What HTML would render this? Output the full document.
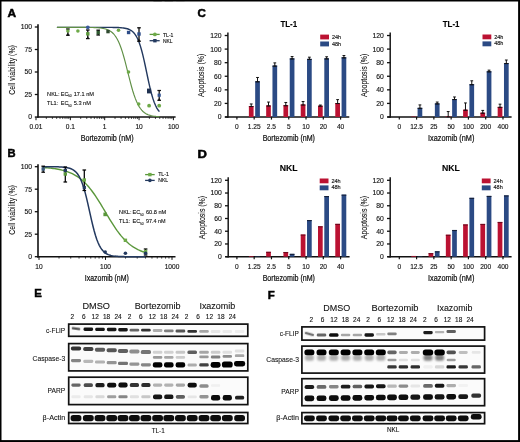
<!DOCTYPE html>
<html><head><meta charset="utf-8"><title>Figure</title>
<style>
html,body{margin:0;padding:0;background:#fff;}
body{width:520px;height:442px;overflow:hidden;}
svg{display:block;font-family:"Liberation Sans", sans-serif;}
</style></head>
<body>
<svg width="520" height="442" viewBox="0 0 520 442">
<rect x="0" y="0" width="520" height="442" fill="#fff"/>
<line x1="38.00" y1="24.20" x2="38.00" y2="117.70" stroke="#111" stroke-width="1.6"/>
<line x1="34.80" y1="117.00" x2="38.00" y2="117.00" stroke="#111" stroke-width="1.3"/>
<line x1="34.80" y1="94.50" x2="38.00" y2="94.50" stroke="#111" stroke-width="1.3"/>
<line x1="34.80" y1="72.00" x2="38.00" y2="72.00" stroke="#111" stroke-width="1.3"/>
<line x1="34.80" y1="49.50" x2="38.00" y2="49.50" stroke="#111" stroke-width="1.3"/>
<line x1="34.80" y1="27.00" x2="38.00" y2="27.00" stroke="#111" stroke-width="1.3"/>
<line x1="37.20" y1="117.00" x2="175.60" y2="117.00" stroke="#111" stroke-width="1.45"/>
<line x1="36.00" y1="117.00" x2="36.00" y2="120.20" stroke="#111" stroke-width="1.0"/>
<line x1="46.34" y1="117.00" x2="46.34" y2="118.90" stroke="#111" stroke-width="0.8"/>
<line x1="52.39" y1="117.00" x2="52.39" y2="118.90" stroke="#111" stroke-width="0.8"/>
<line x1="56.68" y1="117.00" x2="56.68" y2="118.90" stroke="#111" stroke-width="0.8"/>
<line x1="60.01" y1="117.00" x2="60.01" y2="118.90" stroke="#111" stroke-width="0.8"/>
<line x1="62.73" y1="117.00" x2="62.73" y2="118.90" stroke="#111" stroke-width="0.8"/>
<line x1="65.03" y1="117.00" x2="65.03" y2="118.90" stroke="#111" stroke-width="0.8"/>
<line x1="67.02" y1="117.00" x2="67.02" y2="118.90" stroke="#111" stroke-width="0.8"/>
<line x1="68.78" y1="117.00" x2="68.78" y2="118.90" stroke="#111" stroke-width="0.8"/>
<line x1="70.35" y1="117.00" x2="70.35" y2="120.20" stroke="#111" stroke-width="1.0"/>
<line x1="80.69" y1="117.00" x2="80.69" y2="118.90" stroke="#111" stroke-width="0.8"/>
<line x1="86.74" y1="117.00" x2="86.74" y2="118.90" stroke="#111" stroke-width="0.8"/>
<line x1="91.03" y1="117.00" x2="91.03" y2="118.90" stroke="#111" stroke-width="0.8"/>
<line x1="94.36" y1="117.00" x2="94.36" y2="118.90" stroke="#111" stroke-width="0.8"/>
<line x1="97.08" y1="117.00" x2="97.08" y2="118.90" stroke="#111" stroke-width="0.8"/>
<line x1="99.38" y1="117.00" x2="99.38" y2="118.90" stroke="#111" stroke-width="0.8"/>
<line x1="101.37" y1="117.00" x2="101.37" y2="118.90" stroke="#111" stroke-width="0.8"/>
<line x1="103.13" y1="117.00" x2="103.13" y2="118.90" stroke="#111" stroke-width="0.8"/>
<line x1="104.70" y1="117.00" x2="104.70" y2="120.20" stroke="#111" stroke-width="1.0"/>
<line x1="115.04" y1="117.00" x2="115.04" y2="118.90" stroke="#111" stroke-width="0.8"/>
<line x1="121.09" y1="117.00" x2="121.09" y2="118.90" stroke="#111" stroke-width="0.8"/>
<line x1="125.38" y1="117.00" x2="125.38" y2="118.90" stroke="#111" stroke-width="0.8"/>
<line x1="128.71" y1="117.00" x2="128.71" y2="118.90" stroke="#111" stroke-width="0.8"/>
<line x1="131.43" y1="117.00" x2="131.43" y2="118.90" stroke="#111" stroke-width="0.8"/>
<line x1="133.73" y1="117.00" x2="133.73" y2="118.90" stroke="#111" stroke-width="0.8"/>
<line x1="135.72" y1="117.00" x2="135.72" y2="118.90" stroke="#111" stroke-width="0.8"/>
<line x1="137.48" y1="117.00" x2="137.48" y2="118.90" stroke="#111" stroke-width="0.8"/>
<line x1="139.05" y1="117.00" x2="139.05" y2="120.20" stroke="#111" stroke-width="1.0"/>
<line x1="149.39" y1="117.00" x2="149.39" y2="118.90" stroke="#111" stroke-width="0.8"/>
<line x1="155.44" y1="117.00" x2="155.44" y2="118.90" stroke="#111" stroke-width="0.8"/>
<line x1="159.73" y1="117.00" x2="159.73" y2="118.90" stroke="#111" stroke-width="0.8"/>
<line x1="163.06" y1="117.00" x2="163.06" y2="118.90" stroke="#111" stroke-width="0.8"/>
<line x1="165.78" y1="117.00" x2="165.78" y2="118.90" stroke="#111" stroke-width="0.8"/>
<line x1="168.08" y1="117.00" x2="168.08" y2="118.90" stroke="#111" stroke-width="0.8"/>
<line x1="170.07" y1="117.00" x2="170.07" y2="118.90" stroke="#111" stroke-width="0.8"/>
<line x1="171.83" y1="117.00" x2="171.83" y2="118.90" stroke="#111" stroke-width="0.8"/>
<line x1="173.40" y1="117.00" x2="173.40" y2="120.20" stroke="#111" stroke-width="1.0"/>
<polyline points="56.90,27.36 58.18,27.36 59.46,27.36 60.74,27.36 62.02,27.36 63.31,27.36 64.59,27.36 65.87,27.36 67.15,27.36 68.43,27.36 69.71,27.36 70.99,27.36 72.28,27.36 73.56,27.36 74.84,27.36 76.12,27.36 77.40,27.36 78.68,27.36 79.96,27.36 81.24,27.36 82.53,27.36 83.81,27.36 85.09,27.36 86.37,27.36 87.65,27.36 88.93,27.36 90.21,27.36 91.49,27.36 92.78,27.36 94.06,27.36 95.34,27.36 96.62,27.36 97.90,27.36 99.18,27.36 100.46,27.36 101.74,27.37 103.03,27.37 104.31,27.37 105.59,27.37 106.87,27.38 108.15,27.38 109.43,27.39 110.71,27.40 111.99,27.41 113.28,27.43 114.56,27.45 115.84,27.48 117.12,27.52 118.40,27.57 119.68,27.64 120.96,27.73 122.24,27.84 123.53,27.99 124.81,28.19 126.09,28.45 127.37,28.79 128.65,29.23 129.93,29.80 131.21,30.55 132.49,31.51 133.78,32.74 135.06,34.31 136.34,36.29 137.62,38.76 138.90,41.78 140.18,45.42 141.46,49.71 142.74,54.63 144.03,60.11 145.31,66.00 146.59,72.12 147.87,78.24 149.15,84.14 150.43,89.63 151.71,94.56 152.99,98.86 154.28,102.51 155.56,105.55 156.84,108.03 158.12,110.01 159.40,111.59" fill="none" stroke="#23395f" stroke-width="1.4"/>
<polyline points="56.90,27.36 58.18,27.36 59.47,27.36 60.75,27.36 62.04,27.36 63.32,27.36 64.61,27.36 65.89,27.36 67.18,27.36 68.47,27.36 69.75,27.36 71.03,27.36 72.32,27.36 73.60,27.37 74.89,27.37 76.17,27.37 77.46,27.37 78.74,27.37 80.03,27.38 81.31,27.38 82.60,27.39 83.88,27.39 85.17,27.40 86.45,27.41 87.74,27.43 89.02,27.45 90.31,27.47 91.59,27.50 92.88,27.53 94.16,27.58 95.45,27.63 96.73,27.70 98.02,27.79 99.30,27.90 100.59,28.04 101.88,28.22 103.16,28.44 104.44,28.71 105.73,29.05 107.01,29.48 108.30,30.01 109.58,30.67 110.87,31.49 112.16,32.50 113.44,33.73 114.72,35.24 116.01,37.05 117.29,39.23 118.58,41.80 119.86,44.81 121.15,48.27 122.44,52.18 123.72,56.51 125.00,61.20 126.29,66.16 127.57,71.28 128.86,76.42 130.14,81.45 131.43,86.25 132.71,90.71 134.00,94.78 135.28,98.39 136.57,101.56 137.85,104.28 139.14,106.59 140.42,108.53 141.71,110.13 142.99,111.46 144.28,112.54 145.56,113.42 146.85,114.13 148.13,114.71 149.42,115.17 150.70,115.54 151.99,115.83 153.27,116.07 154.56,116.26 155.84,116.41 157.13,116.53 158.41,116.63 159.70,116.70" fill="none" stroke="#5f8f45" stroke-width="1.15"/>
<line x1="67.90" y1="29.00" x2="67.90" y2="35.20" stroke="#000" stroke-width="1.25"/>
<line x1="66.10" y1="29.00" x2="69.70" y2="29.00" stroke="#000" stroke-width="1.25"/>
<line x1="66.10" y1="35.20" x2="69.70" y2="35.20" stroke="#000" stroke-width="1.25"/>
<circle cx="67.90" cy="31.00" r="1.8" fill="#6eaa48"/>
<polygon points="66.40,35.70 69.40,35.70 67.90,32.70" fill="#111"/>
<circle cx="77.90" cy="31.00" r="1.8" fill="#6eaa48"/>
<line x1="87.80" y1="30.00" x2="87.80" y2="38.60" stroke="#000" stroke-width="1.25"/>
<line x1="86.00" y1="30.00" x2="89.60" y2="30.00" stroke="#000" stroke-width="1.25"/>
<line x1="86.00" y1="38.60" x2="89.60" y2="38.60" stroke="#000" stroke-width="1.25"/>
<rect x="86.10" y="32.10" width="3.40" height="3.40" fill="#5a973b" />
<circle cx="87.80" cy="27.30" r="1.9" fill="#3a5a9a"/>
<polygon points="86.30,39.10 89.30,39.10 87.80,36.10" fill="#111"/>
<line x1="98.20" y1="30.20" x2="98.20" y2="35.00" stroke="#000" stroke-width="1.25"/>
<line x1="96.40" y1="30.20" x2="100.00" y2="30.20" stroke="#000" stroke-width="1.25"/>
<line x1="96.40" y1="35.00" x2="100.00" y2="35.00" stroke="#000" stroke-width="1.25"/>
<rect x="96.50" y="30.90" width="3.40" height="3.40" fill="#2f5a30" />
<rect x="106.30" y="29.90" width="3.40" height="3.40" fill="#2f4a30" />
<circle cx="118.50" cy="30.20" r="1.8" fill="#6eaa48"/>
<rect x="126.90" y="30.80" width="3.40" height="3.40" fill="#2d4c88" />
<line x1="139.00" y1="27.80" x2="139.00" y2="41.20" stroke="#000" stroke-width="1.25"/>
<line x1="137.20" y1="27.80" x2="140.80" y2="27.80" stroke="#000" stroke-width="1.25"/>
<line x1="137.20" y1="41.20" x2="140.80" y2="41.20" stroke="#000" stroke-width="1.25"/>
<rect x="137.30" y="32.30" width="3.40" height="3.40" fill="#2d4c88" />
<polygon points="137.50,41.50 140.50,41.50 139.00,38.50" fill="#111"/>
<circle cx="128.50" cy="72.00" r="1.8" fill="#6eaa48"/>
<circle cx="138.70" cy="104.00" r="1.8" fill="#6eaa48"/>
<circle cx="149.10" cy="105.70" r="1.9" fill="#6eaa48"/>
<circle cx="159.20" cy="105.70" r="1.9" fill="#6eaa48"/>
<rect x="147.00" y="88.60" width="4.20" height="4.80" fill="#1f3150" />
<line x1="159.20" y1="90.50" x2="159.20" y2="100.30" stroke="#111" stroke-width="1.25"/>
<line x1="157.40" y1="90.50" x2="161.00" y2="90.50" stroke="#111" stroke-width="1.25"/>
<line x1="157.40" y1="100.30" x2="161.00" y2="100.30" stroke="#111" stroke-width="1.25"/>
<rect x="157.60" y="93.60" width="3.20" height="3.20" fill="#34548f" />
<polygon points="157.70,100.70 160.70,100.70 159.20,97.70" fill="#111"/>
<line x1="149.60" y1="34.40" x2="159.70" y2="34.40" stroke="#5a973b" stroke-width="1.3"/>
<circle cx="154.90" cy="34.40" r="1.9" fill="#6eaa48"/>
<line x1="149.60" y1="40.70" x2="159.70" y2="40.70" stroke="#23395f" stroke-width="1.3"/>
<rect x="153.20" y="39.00" width="3.40" height="3.40" fill="#23395f" />
<line x1="38.00" y1="164.20" x2="38.00" y2="257.40" stroke="#111" stroke-width="1.6"/>
<line x1="34.80" y1="256.70" x2="38.00" y2="256.70" stroke="#111" stroke-width="1.3"/>
<line x1="34.80" y1="234.20" x2="38.00" y2="234.20" stroke="#111" stroke-width="1.3"/>
<line x1="34.80" y1="211.70" x2="38.00" y2="211.70" stroke="#111" stroke-width="1.3"/>
<line x1="34.80" y1="189.20" x2="38.00" y2="189.20" stroke="#111" stroke-width="1.3"/>
<line x1="34.80" y1="166.70" x2="38.00" y2="166.70" stroke="#111" stroke-width="1.3"/>
<line x1="37.20" y1="256.70" x2="175.50" y2="256.70" stroke="#111" stroke-width="1.45"/>
<line x1="39.00" y1="256.70" x2="39.00" y2="259.90" stroke="#111" stroke-width="1.0"/>
<line x1="59.02" y1="256.70" x2="59.02" y2="258.60" stroke="#111" stroke-width="0.8"/>
<line x1="70.73" y1="256.70" x2="70.73" y2="258.60" stroke="#111" stroke-width="0.8"/>
<line x1="79.04" y1="256.70" x2="79.04" y2="258.60" stroke="#111" stroke-width="0.8"/>
<line x1="85.48" y1="256.70" x2="85.48" y2="258.60" stroke="#111" stroke-width="0.8"/>
<line x1="90.75" y1="256.70" x2="90.75" y2="258.60" stroke="#111" stroke-width="0.8"/>
<line x1="95.20" y1="256.70" x2="95.20" y2="258.60" stroke="#111" stroke-width="0.8"/>
<line x1="99.06" y1="256.70" x2="99.06" y2="258.60" stroke="#111" stroke-width="0.8"/>
<line x1="102.46" y1="256.70" x2="102.46" y2="258.60" stroke="#111" stroke-width="0.8"/>
<line x1="105.50" y1="256.70" x2="105.50" y2="259.90" stroke="#111" stroke-width="1.0"/>
<line x1="125.52" y1="256.70" x2="125.52" y2="258.60" stroke="#111" stroke-width="0.8"/>
<line x1="137.23" y1="256.70" x2="137.23" y2="258.60" stroke="#111" stroke-width="0.8"/>
<line x1="145.54" y1="256.70" x2="145.54" y2="258.60" stroke="#111" stroke-width="0.8"/>
<line x1="151.98" y1="256.70" x2="151.98" y2="258.60" stroke="#111" stroke-width="0.8"/>
<line x1="157.25" y1="256.70" x2="157.25" y2="258.60" stroke="#111" stroke-width="0.8"/>
<line x1="161.70" y1="256.70" x2="161.70" y2="258.60" stroke="#111" stroke-width="0.8"/>
<line x1="165.56" y1="256.70" x2="165.56" y2="258.60" stroke="#111" stroke-width="0.8"/>
<line x1="168.96" y1="256.70" x2="168.96" y2="258.60" stroke="#111" stroke-width="0.8"/>
<line x1="172.00" y1="256.70" x2="172.00" y2="259.90" stroke="#111" stroke-width="1.0"/>
<polyline points="42.70,167.51 43.99,167.60 45.27,167.69 46.56,167.78 47.84,167.89 49.13,168.01 50.42,168.14 51.70,168.29 52.99,168.45 54.28,168.62 55.56,168.81 56.85,169.02 58.14,169.25 59.42,169.50 60.71,169.77 61.99,170.07 63.28,170.40 64.57,170.76 65.85,171.15 67.14,171.58 68.43,172.04 69.71,172.55 71.00,173.10 72.28,173.70 73.57,174.35 74.86,175.05 76.14,175.81 77.43,176.64 78.72,177.52 80.00,178.48 81.29,179.50 82.57,180.60 83.86,181.78 85.15,183.03 86.43,184.36 87.72,185.77 89.00,187.26 90.29,188.84 91.58,190.49 92.86,192.22 94.15,194.02 95.44,195.90 96.72,197.83 98.01,199.83 99.29,201.88 100.58,203.97 101.87,206.10 103.15,208.25 104.44,210.42 105.73,212.59 107.01,214.76 108.30,216.92 109.58,219.05 110.87,221.15 112.16,223.20 113.44,225.21 114.73,227.16 116.02,229.04 117.30,230.86 118.59,232.60 119.87,234.27 121.16,235.86 122.45,237.36 123.73,238.79 125.02,240.14 126.31,241.40 127.59,242.59 128.88,243.70 130.17,244.74 131.45,245.71 132.74,246.61 134.02,247.44 135.31,248.21 136.60,248.93 137.88,249.59 139.17,250.20 140.45,250.76 141.74,251.27 143.03,251.74 144.31,252.18 145.60,252.57" fill="none" stroke="#5a973b" stroke-width="1.4"/>
<polyline points="42.70,166.71 43.99,166.71 45.27,166.71 46.56,166.72 47.84,166.72 49.13,166.73 50.42,166.73 51.70,166.74 52.99,166.76 54.28,166.77 55.56,166.80 56.85,166.82 58.14,166.86 59.42,166.91 60.71,166.97 61.99,167.05 63.28,167.15 64.57,167.28 65.85,167.45 67.14,167.67 68.43,167.95 69.71,168.31 71.00,168.78 72.28,169.37 73.57,170.13 74.86,171.09 76.14,172.30 77.43,173.82 78.72,175.71 80.00,178.03 81.29,180.85 82.57,184.20 83.86,188.13 85.15,192.63 86.43,197.65 87.72,203.08 89.00,208.79 90.29,214.59 91.58,220.30 92.86,225.74 94.15,230.75 95.44,235.25 96.72,239.19 98.01,242.55 99.29,245.36 100.58,247.68 101.87,249.57 103.15,251.10 104.44,252.31 105.73,253.27 107.01,254.03 108.30,254.62 109.58,255.09 110.87,255.45 112.16,255.73 113.44,255.95 114.73,256.12 116.02,256.25 117.30,256.35 118.59,256.43 119.87,256.49 121.16,256.54 122.45,256.58 123.73,256.60 125.02,256.63 126.31,256.64 127.59,256.66 128.88,256.67 130.17,256.67 131.45,256.68 132.74,256.68 134.02,256.69 135.31,256.69 136.60,256.69 137.88,256.69 139.17,256.70 140.45,256.70 141.74,256.70 143.03,256.70 144.31,256.70 145.60,256.70" fill="none" stroke="#23395f" stroke-width="1.5"/>
<line x1="43.20" y1="166.20" x2="43.20" y2="172.20" stroke="#000" stroke-width="1.25"/>
<line x1="41.40" y1="166.20" x2="45.00" y2="166.20" stroke="#000" stroke-width="1.25"/>
<line x1="41.40" y1="172.20" x2="45.00" y2="172.20" stroke="#000" stroke-width="1.25"/>
<rect x="41.50" y="167.30" width="3.40" height="3.40" fill="#3a5a7a" />
<line x1="65.30" y1="167.00" x2="65.30" y2="182.00" stroke="#000" stroke-width="1.25"/>
<line x1="63.50" y1="167.00" x2="67.10" y2="167.00" stroke="#000" stroke-width="1.25"/>
<line x1="63.50" y1="182.00" x2="67.10" y2="182.00" stroke="#000" stroke-width="1.25"/>
<rect x="63.60" y="168.80" width="3.40" height="3.40" fill="#23395f" />
<rect x="63.60" y="172.30" width="3.40" height="3.40" fill="#5a973b" />
<line x1="84.30" y1="170.00" x2="84.30" y2="190.50" stroke="#000" stroke-width="1.25"/>
<line x1="82.50" y1="170.00" x2="86.10" y2="170.00" stroke="#000" stroke-width="1.25"/>
<line x1="82.50" y1="190.50" x2="86.10" y2="190.50" stroke="#000" stroke-width="1.25"/>
<rect x="82.60" y="178.30" width="3.40" height="3.40" fill="#6eaa48" />
<rect x="82.70" y="185.90" width="3.20" height="3.20" fill="#23395f" />
<rect x="103.40" y="212.60" width="3.60" height="3.60" fill="#5a973b" />
<circle cx="105.20" cy="252.00" r="1.8" fill="#23395f"/>
<rect x="123.70" y="238.60" width="3.40" height="3.40" fill="#6eaa48" />
<circle cx="125.40" cy="253.20" r="1.8" fill="#23395f"/>
<line x1="145.60" y1="249.00" x2="145.60" y2="255.00" stroke="#000" stroke-width="1.25"/>
<line x1="143.80" y1="249.00" x2="147.40" y2="249.00" stroke="#000" stroke-width="1.25"/>
<line x1="143.80" y1="255.00" x2="147.40" y2="255.00" stroke="#000" stroke-width="1.25"/>
<rect x="143.90" y="249.80" width="3.40" height="3.40" fill="#6eaa48" />
<circle cx="145.60" cy="253.30" r="1.8" fill="#23395f"/>
<line x1="145.10" y1="174.60" x2="154.70" y2="174.60" stroke="#5a973b" stroke-width="1.3"/>
<rect x="148.20" y="172.90" width="3.40" height="3.40" fill="#6eaa48" />
<line x1="145.10" y1="180.40" x2="154.70" y2="180.40" stroke="#23395f" stroke-width="1.3"/>
<circle cx="149.90" cy="180.40" r="1.8" fill="#23395f"/>
<line x1="227.90" y1="32.40" x2="227.90" y2="117.70" stroke="#111" stroke-width="1.45"/>
<line x1="224.70" y1="117.00" x2="227.90" y2="117.00" stroke="#111" stroke-width="1.3"/>
<line x1="224.70" y1="103.42" x2="227.90" y2="103.42" stroke="#111" stroke-width="1.3"/>
<line x1="224.70" y1="89.84" x2="227.90" y2="89.84" stroke="#111" stroke-width="1.3"/>
<line x1="224.70" y1="76.26" x2="227.90" y2="76.26" stroke="#111" stroke-width="1.3"/>
<line x1="224.70" y1="62.68" x2="227.90" y2="62.68" stroke="#111" stroke-width="1.3"/>
<line x1="224.70" y1="49.10" x2="227.90" y2="49.10" stroke="#111" stroke-width="1.3"/>
<line x1="224.70" y1="35.52" x2="227.90" y2="35.52" stroke="#111" stroke-width="1.3"/>
<line x1="225.10" y1="117.00" x2="349.30" y2="117.00" stroke="#111" stroke-width="1.45"/>
<line x1="236.90" y1="117.00" x2="236.90" y2="119.60" stroke="#111" stroke-width="1.2"/>
<line x1="254.18" y1="117.00" x2="254.18" y2="119.60" stroke="#111" stroke-width="1.2"/>
<rect x="248.88" y="106.00" width="4.70" height="11.00" fill="#bb1232" />
<rect x="248.88" y="106.00" width="4.70" height="1.10" fill="#6e0a1e" />
<line x1="251.23" y1="103.96" x2="251.23" y2="106.50" stroke="#111" stroke-width="1.0"/>
<line x1="249.83" y1="103.96" x2="252.63" y2="103.96" stroke="#111" stroke-width="1.0"/>
<line x1="249.83" y1="106.50" x2="252.63" y2="106.50" stroke="#111" stroke-width="1.0"/>
<rect x="255.18" y="81.28" width="4.70" height="35.72" fill="#2b4a84" />
<rect x="255.18" y="81.28" width="4.70" height="1.10" fill="#152039" />
<line x1="257.53" y1="77.48" x2="257.53" y2="81.78" stroke="#111" stroke-width="1.0"/>
<line x1="256.13" y1="77.48" x2="258.93" y2="77.48" stroke="#111" stroke-width="1.0"/>
<line x1="256.13" y1="81.78" x2="258.93" y2="81.78" stroke="#111" stroke-width="1.0"/>
<line x1="271.46" y1="117.00" x2="271.46" y2="119.60" stroke="#111" stroke-width="1.2"/>
<rect x="266.16" y="105.46" width="4.70" height="11.54" fill="#bb1232" />
<rect x="266.16" y="105.46" width="4.70" height="1.10" fill="#6e0a1e" />
<line x1="268.51" y1="102.06" x2="268.51" y2="105.96" stroke="#111" stroke-width="1.0"/>
<line x1="267.11" y1="102.06" x2="269.91" y2="102.06" stroke="#111" stroke-width="1.0"/>
<line x1="267.11" y1="105.96" x2="269.91" y2="105.96" stroke="#111" stroke-width="1.0"/>
<rect x="272.46" y="65.60" width="4.70" height="51.40" fill="#2b4a84" />
<rect x="272.46" y="65.60" width="4.70" height="1.10" fill="#152039" />
<line x1="274.81" y1="62.88" x2="274.81" y2="66.10" stroke="#111" stroke-width="1.0"/>
<line x1="273.41" y1="62.88" x2="276.21" y2="62.88" stroke="#111" stroke-width="1.0"/>
<line x1="273.41" y1="66.10" x2="276.21" y2="66.10" stroke="#111" stroke-width="1.0"/>
<line x1="288.74" y1="117.00" x2="288.74" y2="119.60" stroke="#111" stroke-width="1.2"/>
<rect x="283.44" y="105.19" width="4.70" height="11.81" fill="#bb1232" />
<rect x="283.44" y="105.19" width="4.70" height="1.10" fill="#6e0a1e" />
<line x1="285.79" y1="102.47" x2="285.79" y2="105.69" stroke="#111" stroke-width="1.0"/>
<line x1="284.39" y1="102.47" x2="287.19" y2="102.47" stroke="#111" stroke-width="1.0"/>
<line x1="284.39" y1="105.69" x2="287.19" y2="105.69" stroke="#111" stroke-width="1.0"/>
<rect x="289.74" y="58.40" width="4.70" height="58.60" fill="#2b4a84" />
<rect x="289.74" y="58.40" width="4.70" height="1.10" fill="#152039" />
<line x1="292.09" y1="56.57" x2="292.09" y2="58.90" stroke="#111" stroke-width="1.0"/>
<line x1="290.69" y1="56.57" x2="293.49" y2="56.57" stroke="#111" stroke-width="1.0"/>
<line x1="290.69" y1="58.90" x2="293.49" y2="58.90" stroke="#111" stroke-width="1.0"/>
<line x1="306.02" y1="117.00" x2="306.02" y2="119.60" stroke="#111" stroke-width="1.2"/>
<rect x="300.72" y="104.51" width="4.70" height="12.49" fill="#bb1232" />
<rect x="300.72" y="104.51" width="4.70" height="1.10" fill="#6e0a1e" />
<line x1="303.07" y1="101.52" x2="303.07" y2="105.01" stroke="#111" stroke-width="1.0"/>
<line x1="301.67" y1="101.52" x2="304.47" y2="101.52" stroke="#111" stroke-width="1.0"/>
<line x1="301.67" y1="105.01" x2="304.47" y2="105.01" stroke="#111" stroke-width="1.0"/>
<rect x="307.02" y="58.88" width="4.70" height="58.12" fill="#2b4a84" />
<rect x="307.02" y="58.88" width="4.70" height="1.10" fill="#152039" />
<line x1="309.37" y1="57.18" x2="309.37" y2="59.38" stroke="#111" stroke-width="1.0"/>
<line x1="307.97" y1="57.18" x2="310.77" y2="57.18" stroke="#111" stroke-width="1.0"/>
<line x1="307.97" y1="59.38" x2="310.77" y2="59.38" stroke="#111" stroke-width="1.0"/>
<line x1="323.30" y1="117.00" x2="323.30" y2="119.60" stroke="#111" stroke-width="1.2"/>
<rect x="318.00" y="105.73" width="4.70" height="11.27" fill="#bb1232" />
<rect x="318.00" y="105.73" width="4.70" height="1.10" fill="#6e0a1e" />
<line x1="320.35" y1="105.05" x2="320.35" y2="106.23" stroke="#111" stroke-width="1.0"/>
<line x1="318.95" y1="105.05" x2="321.75" y2="105.05" stroke="#111" stroke-width="1.0"/>
<line x1="318.95" y1="106.23" x2="321.75" y2="106.23" stroke="#111" stroke-width="1.0"/>
<rect x="324.30" y="58.40" width="4.70" height="58.60" fill="#2b4a84" />
<rect x="324.30" y="58.40" width="4.70" height="1.10" fill="#152039" />
<line x1="326.65" y1="56.77" x2="326.65" y2="58.90" stroke="#111" stroke-width="1.0"/>
<line x1="325.25" y1="56.77" x2="328.05" y2="56.77" stroke="#111" stroke-width="1.0"/>
<line x1="325.25" y1="58.90" x2="328.05" y2="58.90" stroke="#111" stroke-width="1.0"/>
<line x1="340.58" y1="117.00" x2="340.58" y2="119.60" stroke="#111" stroke-width="1.2"/>
<rect x="335.28" y="103.01" width="4.70" height="13.99" fill="#bb1232" />
<rect x="335.28" y="103.01" width="4.70" height="1.10" fill="#6e0a1e" />
<line x1="337.63" y1="99.62" x2="337.63" y2="103.51" stroke="#111" stroke-width="1.0"/>
<line x1="336.23" y1="99.62" x2="339.03" y2="99.62" stroke="#111" stroke-width="1.0"/>
<line x1="336.23" y1="103.51" x2="339.03" y2="103.51" stroke="#111" stroke-width="1.0"/>
<rect x="341.58" y="57.32" width="4.70" height="59.68" fill="#2b4a84" />
<rect x="341.58" y="57.32" width="4.70" height="1.10" fill="#152039" />
<line x1="343.93" y1="55.55" x2="343.93" y2="57.82" stroke="#111" stroke-width="1.0"/>
<line x1="342.53" y1="55.55" x2="345.33" y2="55.55" stroke="#111" stroke-width="1.0"/>
<line x1="342.53" y1="57.82" x2="345.33" y2="57.82" stroke="#111" stroke-width="1.0"/>
<rect x="320.20" y="34.60" width="8.80" height="4.80" fill="#bb1232" />
<rect x="320.20" y="41.50" width="8.80" height="4.90" fill="#2b4a84" />
<line x1="390.20" y1="32.40" x2="390.20" y2="117.70" stroke="#111" stroke-width="1.45"/>
<line x1="387.00" y1="117.00" x2="390.20" y2="117.00" stroke="#111" stroke-width="1.3"/>
<line x1="387.00" y1="103.42" x2="390.20" y2="103.42" stroke="#111" stroke-width="1.3"/>
<line x1="387.00" y1="89.84" x2="390.20" y2="89.84" stroke="#111" stroke-width="1.3"/>
<line x1="387.00" y1="76.26" x2="390.20" y2="76.26" stroke="#111" stroke-width="1.3"/>
<line x1="387.00" y1="62.68" x2="390.20" y2="62.68" stroke="#111" stroke-width="1.3"/>
<line x1="387.00" y1="49.10" x2="390.20" y2="49.10" stroke="#111" stroke-width="1.3"/>
<line x1="387.00" y1="35.52" x2="390.20" y2="35.52" stroke="#111" stroke-width="1.3"/>
<line x1="387.40" y1="117.00" x2="511.60" y2="117.00" stroke="#111" stroke-width="1.45"/>
<line x1="399.30" y1="117.00" x2="399.30" y2="119.60" stroke="#111" stroke-width="1.2"/>
<line x1="416.58" y1="117.00" x2="416.58" y2="119.60" stroke="#111" stroke-width="1.2"/>
<rect x="411.28" y="116.59" width="4.70" height="0.41" fill="#bb1232" />
<rect x="417.58" y="107.83" width="4.70" height="9.17" fill="#2b4a84" />
<rect x="417.58" y="107.83" width="4.70" height="1.10" fill="#152039" />
<line x1="419.93" y1="104.91" x2="419.93" y2="108.33" stroke="#111" stroke-width="1.0"/>
<line x1="418.53" y1="104.91" x2="421.33" y2="104.91" stroke="#111" stroke-width="1.0"/>
<line x1="418.53" y1="108.33" x2="421.33" y2="108.33" stroke="#111" stroke-width="1.0"/>
<line x1="433.86" y1="117.00" x2="433.86" y2="119.60" stroke="#111" stroke-width="1.2"/>
<rect x="434.86" y="103.42" width="4.70" height="13.58" fill="#2b4a84" />
<rect x="434.86" y="103.42" width="4.70" height="1.10" fill="#152039" />
<line x1="437.21" y1="102.06" x2="437.21" y2="103.92" stroke="#111" stroke-width="1.0"/>
<line x1="435.81" y1="102.06" x2="438.61" y2="102.06" stroke="#111" stroke-width="1.0"/>
<line x1="435.81" y1="103.92" x2="438.61" y2="103.92" stroke="#111" stroke-width="1.0"/>
<line x1="451.14" y1="117.00" x2="451.14" y2="119.60" stroke="#111" stroke-width="1.2"/>
<rect x="445.84" y="116.32" width="4.70" height="0.68" fill="#bb1232" />
<line x1="448.19" y1="111.57" x2="448.19" y2="116.82" stroke="#111" stroke-width="1.0"/>
<line x1="446.79" y1="111.57" x2="449.59" y2="111.57" stroke="#111" stroke-width="1.0"/>
<line x1="446.79" y1="116.82" x2="449.59" y2="116.82" stroke="#111" stroke-width="1.0"/>
<rect x="452.14" y="99.01" width="4.70" height="17.99" fill="#2b4a84" />
<rect x="452.14" y="99.01" width="4.70" height="1.10" fill="#152039" />
<line x1="454.49" y1="96.97" x2="454.49" y2="99.51" stroke="#111" stroke-width="1.0"/>
<line x1="453.09" y1="96.97" x2="455.89" y2="96.97" stroke="#111" stroke-width="1.0"/>
<line x1="453.09" y1="99.51" x2="455.89" y2="99.51" stroke="#111" stroke-width="1.0"/>
<line x1="468.42" y1="117.00" x2="468.42" y2="119.60" stroke="#111" stroke-width="1.2"/>
<rect x="463.12" y="109.73" width="4.70" height="7.27" fill="#bb1232" />
<rect x="463.12" y="109.73" width="4.70" height="1.10" fill="#6e0a1e" />
<line x1="465.47" y1="102.94" x2="465.47" y2="110.23" stroke="#111" stroke-width="1.0"/>
<line x1="464.07" y1="102.94" x2="466.87" y2="102.94" stroke="#111" stroke-width="1.0"/>
<line x1="464.07" y1="110.23" x2="466.87" y2="110.23" stroke="#111" stroke-width="1.0"/>
<rect x="469.42" y="84.20" width="4.70" height="32.80" fill="#2b4a84" />
<rect x="469.42" y="84.20" width="4.70" height="1.10" fill="#152039" />
<line x1="471.77" y1="80.81" x2="471.77" y2="84.70" stroke="#111" stroke-width="1.0"/>
<line x1="470.37" y1="80.81" x2="473.17" y2="80.81" stroke="#111" stroke-width="1.0"/>
<line x1="470.37" y1="84.70" x2="473.17" y2="84.70" stroke="#111" stroke-width="1.0"/>
<line x1="485.70" y1="117.00" x2="485.70" y2="119.60" stroke="#111" stroke-width="1.2"/>
<rect x="480.40" y="112.72" width="4.70" height="4.28" fill="#bb1232" />
<rect x="480.40" y="112.72" width="4.70" height="1.10" fill="#6e0a1e" />
<line x1="482.75" y1="110.41" x2="482.75" y2="113.22" stroke="#111" stroke-width="1.0"/>
<line x1="481.35" y1="110.41" x2="484.15" y2="110.41" stroke="#111" stroke-width="1.0"/>
<line x1="481.35" y1="113.22" x2="484.15" y2="113.22" stroke="#111" stroke-width="1.0"/>
<rect x="486.70" y="71.30" width="4.70" height="45.70" fill="#2b4a84" />
<rect x="486.70" y="71.30" width="4.70" height="1.10" fill="#152039" />
<line x1="489.05" y1="70.15" x2="489.05" y2="71.80" stroke="#111" stroke-width="1.0"/>
<line x1="487.65" y1="70.15" x2="490.45" y2="70.15" stroke="#111" stroke-width="1.0"/>
<line x1="487.65" y1="71.80" x2="490.45" y2="71.80" stroke="#111" stroke-width="1.0"/>
<line x1="502.98" y1="117.00" x2="502.98" y2="119.60" stroke="#111" stroke-width="1.2"/>
<rect x="497.68" y="106.88" width="4.70" height="10.12" fill="#bb1232" />
<rect x="497.68" y="106.88" width="4.70" height="1.10" fill="#6e0a1e" />
<line x1="500.03" y1="104.17" x2="500.03" y2="107.38" stroke="#111" stroke-width="1.0"/>
<line x1="498.63" y1="104.17" x2="501.43" y2="104.17" stroke="#111" stroke-width="1.0"/>
<line x1="498.63" y1="107.38" x2="501.43" y2="107.38" stroke="#111" stroke-width="1.0"/>
<rect x="503.98" y="63.02" width="4.70" height="53.98" fill="#2b4a84" />
<rect x="503.98" y="63.02" width="4.70" height="1.10" fill="#152039" />
<line x1="506.33" y1="60.03" x2="506.33" y2="63.52" stroke="#111" stroke-width="1.0"/>
<line x1="504.93" y1="60.03" x2="507.73" y2="60.03" stroke="#111" stroke-width="1.0"/>
<line x1="504.93" y1="63.52" x2="507.73" y2="63.52" stroke="#111" stroke-width="1.0"/>
<rect x="482.50" y="34.50" width="8.80" height="4.80" fill="#bb1232" />
<rect x="482.50" y="41.40" width="8.80" height="4.90" fill="#2b4a84" />
<line x1="228.20" y1="177.20" x2="228.20" y2="257.40" stroke="#111" stroke-width="1.45"/>
<line x1="225.00" y1="256.70" x2="228.20" y2="256.70" stroke="#111" stroke-width="1.3"/>
<line x1="225.00" y1="243.97" x2="228.20" y2="243.97" stroke="#111" stroke-width="1.3"/>
<line x1="225.00" y1="231.23" x2="228.20" y2="231.23" stroke="#111" stroke-width="1.3"/>
<line x1="225.00" y1="218.50" x2="228.20" y2="218.50" stroke="#111" stroke-width="1.3"/>
<line x1="225.00" y1="205.76" x2="228.20" y2="205.76" stroke="#111" stroke-width="1.3"/>
<line x1="225.00" y1="193.03" x2="228.20" y2="193.03" stroke="#111" stroke-width="1.3"/>
<line x1="225.00" y1="180.30" x2="228.20" y2="180.30" stroke="#111" stroke-width="1.3"/>
<line x1="225.40" y1="256.70" x2="349.60" y2="256.70" stroke="#111" stroke-width="1.45"/>
<line x1="236.90" y1="256.70" x2="236.90" y2="259.30" stroke="#111" stroke-width="1.2"/>
<line x1="254.18" y1="256.70" x2="254.18" y2="259.30" stroke="#111" stroke-width="1.2"/>
<rect x="248.88" y="256.06" width="4.70" height="0.64" fill="#bb1232" />
<rect x="255.18" y="256.32" width="4.70" height="0.38" fill="#2b4a84" />
<line x1="271.46" y1="256.70" x2="271.46" y2="259.30" stroke="#111" stroke-width="1.2"/>
<rect x="266.16" y="251.80" width="4.70" height="4.90" fill="#bb1232" />
<rect x="266.16" y="251.80" width="4.70" height="1.10" fill="#6e0a1e" />
<line x1="288.74" y1="256.70" x2="288.74" y2="259.30" stroke="#111" stroke-width="1.2"/>
<rect x="283.44" y="251.99" width="4.70" height="4.71" fill="#bb1232" />
<rect x="283.44" y="251.99" width="4.70" height="1.10" fill="#6e0a1e" />
<rect x="289.74" y="253.83" width="4.70" height="2.87" fill="#2b4a84" />
<rect x="289.74" y="253.83" width="4.70" height="1.10" fill="#152039" />
<line x1="306.02" y1="256.70" x2="306.02" y2="259.30" stroke="#111" stroke-width="1.2"/>
<rect x="300.72" y="234.54" width="4.70" height="22.16" fill="#bb1232" />
<rect x="300.72" y="234.54" width="4.70" height="1.10" fill="#6e0a1e" />
<rect x="307.02" y="220.03" width="4.70" height="36.67" fill="#2b4a84" />
<rect x="307.02" y="220.03" width="4.70" height="1.10" fill="#152039" />
<line x1="323.30" y1="256.70" x2="323.30" y2="259.30" stroke="#111" stroke-width="1.2"/>
<rect x="318.00" y="226.27" width="4.70" height="30.43" fill="#bb1232" />
<rect x="318.00" y="226.27" width="4.70" height="1.10" fill="#6e0a1e" />
<rect x="324.30" y="196.02" width="4.70" height="60.68" fill="#2b4a84" />
<rect x="324.30" y="196.02" width="4.70" height="1.10" fill="#152039" />
<line x1="340.58" y1="256.70" x2="340.58" y2="259.30" stroke="#111" stroke-width="1.2"/>
<rect x="335.28" y="223.85" width="4.70" height="32.85" fill="#bb1232" />
<rect x="335.28" y="223.85" width="4.70" height="1.10" fill="#6e0a1e" />
<rect x="341.58" y="194.62" width="4.70" height="62.08" fill="#2b4a84" />
<rect x="341.58" y="194.62" width="4.70" height="1.10" fill="#152039" />
<rect x="319.70" y="178.50" width="8.80" height="4.80" fill="#bb1232" />
<rect x="319.70" y="185.40" width="8.80" height="4.90" fill="#2b4a84" />
<line x1="390.20" y1="177.20" x2="390.20" y2="257.40" stroke="#111" stroke-width="1.45"/>
<line x1="387.00" y1="256.70" x2="390.20" y2="256.70" stroke="#111" stroke-width="1.3"/>
<line x1="387.00" y1="243.97" x2="390.20" y2="243.97" stroke="#111" stroke-width="1.3"/>
<line x1="387.00" y1="231.23" x2="390.20" y2="231.23" stroke="#111" stroke-width="1.3"/>
<line x1="387.00" y1="218.50" x2="390.20" y2="218.50" stroke="#111" stroke-width="1.3"/>
<line x1="387.00" y1="205.76" x2="390.20" y2="205.76" stroke="#111" stroke-width="1.3"/>
<line x1="387.00" y1="193.03" x2="390.20" y2="193.03" stroke="#111" stroke-width="1.3"/>
<line x1="387.00" y1="180.30" x2="390.20" y2="180.30" stroke="#111" stroke-width="1.3"/>
<line x1="387.40" y1="256.70" x2="511.60" y2="256.70" stroke="#111" stroke-width="1.45"/>
<line x1="399.30" y1="256.70" x2="399.30" y2="259.30" stroke="#111" stroke-width="1.2"/>
<line x1="416.58" y1="256.70" x2="416.58" y2="259.30" stroke="#111" stroke-width="1.2"/>
<rect x="411.28" y="255.94" width="4.70" height="0.76" fill="#bb1232" />
<rect x="417.58" y="256.32" width="4.70" height="0.38" fill="#2b4a84" />
<line x1="433.86" y1="256.70" x2="433.86" y2="259.30" stroke="#111" stroke-width="1.2"/>
<rect x="428.56" y="253.13" width="4.70" height="3.57" fill="#bb1232" />
<rect x="428.56" y="253.13" width="4.70" height="1.10" fill="#6e0a1e" />
<rect x="434.86" y="251.29" width="4.70" height="5.41" fill="#2b4a84" />
<rect x="434.86" y="251.29" width="4.70" height="1.10" fill="#152039" />
<line x1="451.14" y1="256.70" x2="451.14" y2="259.30" stroke="#111" stroke-width="1.2"/>
<rect x="445.84" y="234.73" width="4.70" height="21.97" fill="#bb1232" />
<rect x="445.84" y="234.73" width="4.70" height="1.10" fill="#6e0a1e" />
<rect x="452.14" y="229.96" width="4.70" height="26.74" fill="#2b4a84" />
<rect x="452.14" y="229.96" width="4.70" height="1.10" fill="#152039" />
<line x1="468.42" y1="256.70" x2="468.42" y2="259.30" stroke="#111" stroke-width="1.2"/>
<rect x="463.12" y="224.42" width="4.70" height="32.28" fill="#bb1232" />
<rect x="463.12" y="224.42" width="4.70" height="1.10" fill="#6e0a1e" />
<rect x="469.42" y="197.81" width="4.70" height="58.89" fill="#2b4a84" />
<rect x="469.42" y="197.81" width="4.70" height="1.10" fill="#152039" />
<line x1="485.70" y1="256.70" x2="485.70" y2="259.30" stroke="#111" stroke-width="1.2"/>
<rect x="480.40" y="223.91" width="4.70" height="32.79" fill="#bb1232" />
<rect x="480.40" y="223.91" width="4.70" height="1.10" fill="#6e0a1e" />
<rect x="486.70" y="195.90" width="4.70" height="60.80" fill="#2b4a84" />
<rect x="486.70" y="195.90" width="4.70" height="1.10" fill="#152039" />
<line x1="502.98" y1="256.70" x2="502.98" y2="259.30" stroke="#111" stroke-width="1.2"/>
<rect x="497.68" y="221.94" width="4.70" height="34.76" fill="#bb1232" />
<rect x="497.68" y="221.94" width="4.70" height="1.10" fill="#6e0a1e" />
<rect x="503.98" y="195.39" width="4.70" height="61.31" fill="#2b4a84" />
<rect x="503.98" y="195.39" width="4.70" height="1.10" fill="#152039" />
<rect x="481.80" y="178.50" width="8.80" height="4.80" fill="#bb1232" />
<rect x="481.80" y="185.40" width="8.80" height="4.90" fill="#2b4a84" />
<defs><filter id="bl" x="-50%" y="-80%" width="200%" height="260%"><feGaussianBlur stdDeviation="0.75"/></filter><filter id="gs" x="0" y="0" width="100%" height="100%" filterUnits="userSpaceOnUse"><feOffset dx="0" dy="0"/></filter><filter id="bl2" x="-50%" y="-100%" width="200%" height="300%"><feGaussianBlur stdDeviation="1.3"/></filter></defs>
<rect x="68.70" y="324.10" width="179.10" height="12.20" fill="#fbfbfb" stroke="#111" stroke-width="1.7"/>
<rect x="71.70" y="327.40" width="8.60" height="2.40" rx="1.02" fill="rgb(77,77,77)" filter="url(#bl)" transform="rotate(8 76.00 328.60)"/>
<rect x="83.50" y="327.60" width="9.60" height="3.40" rx="1.44" fill="rgb(25,25,25)" filter="url(#bl)"/>
<rect x="95.20" y="327.70" width="9.60" height="3.40" rx="1.44" fill="rgb(18,18,18)" filter="url(#bl)"/>
<rect x="106.90" y="327.80" width="9.60" height="3.40" rx="1.44" fill="rgb(20,20,20)" filter="url(#bl)"/>
<rect x="118.20" y="328.00" width="9.60" height="3.40" rx="1.44" fill="rgb(25,25,25)" filter="url(#bl)"/>
<rect x="129.60" y="328.70" width="9.60" height="2.80" rx="1.19" fill="rgb(102,102,102)" filter="url(#bl)"/>
<rect x="141.10" y="328.70" width="9.60" height="2.80" rx="1.19" fill="rgb(51,51,51)" filter="url(#bl)"/>
<rect x="152.80" y="329.10" width="9.60" height="2.80" rx="1.19" fill="rgb(173,173,173)" filter="url(#bl)"/>
<rect x="164.00" y="329.40" width="9.60" height="2.80" rx="1.19" fill="rgb(128,128,128)" filter="url(#bl)"/>
<rect x="175.60" y="329.60" width="9.60" height="2.80" rx="1.19" fill="rgb(87,87,87)" filter="url(#bl)"/>
<rect x="187.40" y="329.90" width="9.60" height="2.80" rx="1.19" fill="rgb(51,51,51)" filter="url(#bl)"/>
<rect x="199.20" y="330.00" width="9.60" height="2.80" rx="1.19" fill="rgb(166,166,166)" filter="url(#bl)"/>
<rect x="210.80" y="330.10" width="9.60" height="2.80" rx="1.19" fill="rgb(230,230,230)" filter="url(#bl)"/>
<rect x="222.50" y="330.10" width="9.60" height="2.80" rx="1.19" fill="rgb(235,235,235)" filter="url(#bl)"/>
<rect x="234.80" y="330.10" width="9.60" height="2.80" rx="1.19" fill="rgb(237,237,237)" filter="url(#bl)"/>
<rect x="68.70" y="343.60" width="179.10" height="27.30" fill="#fbfbfb" stroke="#111" stroke-width="1.7"/>
<rect x="70.90" y="346.40" width="10.20" height="4.00" rx="1.70" fill="rgb(51,51,51)" filter="url(#bl)"/>
<rect x="83.20" y="347.02" width="10.20" height="4.00" rx="1.70" fill="rgb(66,66,66)" filter="url(#bl)"/>
<rect x="94.90" y="347.64" width="10.20" height="4.00" rx="1.70" fill="rgb(92,92,92)" filter="url(#bl)"/>
<rect x="106.60" y="348.26" width="10.20" height="4.00" rx="1.70" fill="rgb(87,87,87)" filter="url(#bl)"/>
<rect x="117.90" y="348.88" width="10.20" height="4.00" rx="1.70" fill="rgb(97,97,97)" filter="url(#bl)"/>
<rect x="129.30" y="349.50" width="10.20" height="4.00" rx="1.70" fill="rgb(143,143,143)" filter="url(#bl)"/>
<rect x="140.80" y="350.12" width="10.20" height="4.00" rx="1.70" fill="rgb(117,117,117)" filter="url(#bl)"/>
<rect x="152.80" y="350.80" width="9.60" height="3.00" rx="1.27" fill="rgb(209,209,209)" filter="url(#bl)"/>
<rect x="164.00" y="350.80" width="9.60" height="3.00" rx="1.27" fill="rgb(209,209,209)" filter="url(#bl)"/>
<rect x="175.60" y="350.80" width="9.60" height="3.00" rx="1.27" fill="rgb(199,199,199)" filter="url(#bl)"/>
<rect x="187.40" y="350.50" width="9.60" height="3.60" rx="1.53" fill="rgb(97,97,97)" filter="url(#bl)"/>
<rect x="199.20" y="350.80" width="9.60" height="3.00" rx="1.27" fill="rgb(166,166,166)" filter="url(#bl)"/>
<rect x="210.80" y="350.80" width="9.60" height="3.00" rx="1.27" fill="rgb(204,204,204)" filter="url(#bl)"/>
<rect x="222.50" y="350.80" width="9.60" height="3.00" rx="1.27" fill="rgb(224,224,224)" filter="url(#bl)"/>
<rect x="234.80" y="349.50" width="9.60" height="3.00" rx="1.27" fill="rgb(224,224,224)" filter="url(#bl)"/>
<rect x="152.90" y="-1.40" width="9.40" height="2.80" rx="1.19" fill="rgb(153,153,153)" filter="url(#bl)"/>
<rect x="164.10" y="-1.40" width="9.40" height="2.80" rx="1.19" fill="rgb(166,166,166)" filter="url(#bl)"/>
<rect x="175.70" y="-1.40" width="9.40" height="2.80" rx="1.19" fill="rgb(204,204,204)" filter="url(#bl)"/>
<rect x="199.30" y="355.50" width="9.40" height="2.80" rx="1.19" fill="rgb(153,153,153)" filter="url(#bl)"/>
<rect x="210.90" y="355.60" width="9.40" height="2.80" rx="1.19" fill="rgb(128,128,128)" filter="url(#bl)"/>
<rect x="222.60" y="355.00" width="9.40" height="2.80" rx="1.19" fill="rgb(140,140,140)" filter="url(#bl)"/>
<rect x="234.90" y="354.30" width="9.40" height="2.80" rx="1.19" fill="rgb(166,166,166)" filter="url(#bl)"/>
<rect x="152.90" y="355.90" width="9.40" height="2.80" rx="1.19" fill="rgb(153,153,153)" filter="url(#bl)"/>
<rect x="164.10" y="355.90" width="9.40" height="2.80" rx="1.19" fill="rgb(166,166,166)" filter="url(#bl)"/>
<rect x="175.70" y="355.90" width="9.40" height="2.80" rx="1.19" fill="rgb(204,204,204)" filter="url(#bl)"/>
<rect x="71.00" y="359.00" width="10.00" height="3.20" rx="1.36" fill="rgb(133,133,133)" filter="url(#bl)"/>
<rect x="83.30" y="359.70" width="10.00" height="3.20" rx="1.36" fill="rgb(184,184,184)" filter="url(#bl)"/>
<rect x="95.00" y="360.40" width="10.00" height="3.20" rx="1.36" fill="rgb(178,178,178)" filter="url(#bl)"/>
<rect x="106.70" y="361.10" width="10.00" height="3.20" rx="1.36" fill="rgb(148,148,148)" filter="url(#bl)"/>
<rect x="118.00" y="361.80" width="10.00" height="3.20" rx="1.36" fill="rgb(115,115,115)" filter="url(#bl)"/>
<rect x="129.40" y="362.50" width="10.00" height="3.20" rx="1.36" fill="rgb(148,148,148)" filter="url(#bl)"/>
<rect x="140.90" y="363.20" width="10.00" height="3.20" rx="1.36" fill="rgb(133,133,133)" filter="url(#bl)"/>
<rect x="152.80" y="362.30" width="9.60" height="5.20" rx="2.21" fill="rgb(5,5,5)" filter="url(#bl)"/>
<rect x="164.00" y="362.30" width="9.60" height="5.20" rx="2.21" fill="rgb(5,5,5)" filter="url(#bl)"/>
<rect x="175.60" y="362.30" width="9.60" height="5.20" rx="2.21" fill="rgb(5,5,5)" filter="url(#bl)"/>
<rect x="187.60" y="363.40" width="9.20" height="3.00" rx="1.27" fill="rgb(173,173,173)" filter="url(#bl)"/>
<rect x="199.30" y="363.30" width="9.40" height="3.20" rx="1.36" fill="rgb(64,64,64)" filter="url(#bl)"/>
<rect x="210.60" y="362.10" width="10.00" height="5.60" rx="2.38" fill="rgb(3,3,3)" filter="url(#bl)"/>
<rect x="221.90" y="361.50" width="10.80" height="6.00" rx="2.55" fill="rgb(3,3,3)" filter="url(#bl)"/>
<rect x="234.00" y="360.90" width="11.20" height="5.60" rx="2.38" fill="rgb(3,3,3)" filter="url(#bl)"/>
<rect x="68.70" y="377.20" width="179.10" height="27.40" fill="#fbfbfb" stroke="#111" stroke-width="1.7"/>
<rect x="71.40" y="383.40" width="9.20" height="3.40" rx="1.44" fill="rgb(102,102,102)" filter="url(#bl)"/>
<rect x="83.70" y="383.20" width="9.20" height="3.80" rx="1.61" fill="rgb(77,77,77)" filter="url(#bl)"/>
<rect x="95.40" y="382.90" width="9.20" height="4.40" rx="1.87" fill="rgb(31,31,31)" filter="url(#bl)"/>
<rect x="107.10" y="382.70" width="9.20" height="4.80" rx="2.04" fill="rgb(13,13,13)" filter="url(#bl)"/>
<rect x="118.40" y="382.60" width="9.20" height="5.00" rx="2.12" fill="rgb(8,8,8)" filter="url(#bl)"/>
<rect x="129.80" y="383.10" width="9.20" height="4.00" rx="1.70" fill="rgb(51,51,51)" filter="url(#bl)"/>
<rect x="141.30" y="383.10" width="9.20" height="4.00" rx="1.70" fill="rgb(46,46,46)" filter="url(#bl)"/>
<rect x="153.00" y="383.40" width="9.20" height="3.40" rx="1.44" fill="rgb(178,178,178)" filter="url(#bl)"/>
<rect x="164.20" y="383.40" width="9.20" height="3.40" rx="1.44" fill="rgb(178,178,178)" filter="url(#bl)"/>
<rect x="175.80" y="383.40" width="9.20" height="3.40" rx="1.44" fill="rgb(166,166,166)" filter="url(#bl)"/>
<rect x="187.60" y="382.80" width="9.20" height="4.80" rx="2.04" fill="rgb(10,10,10)" filter="url(#bl)"/>
<rect x="199.40" y="384.20" width="9.20" height="3.60" rx="1.53" fill="rgb(140,140,140)" filter="url(#bl)"/>
<rect x="211.00" y="384.30" width="9.20" height="2.40" rx="1.02" fill="rgb(240,240,240)" filter="url(#bl)"/>
<rect x="71.40" y="395.30" width="9.20" height="3.00" rx="1.27" fill="rgb(235,235,235)" filter="url(#bl)"/>
<rect x="83.70" y="395.30" width="9.20" height="3.00" rx="1.27" fill="rgb(230,230,230)" filter="url(#bl)"/>
<rect x="95.40" y="395.30" width="9.20" height="3.00" rx="1.27" fill="rgb(217,217,217)" filter="url(#bl)"/>
<rect x="107.10" y="395.30" width="9.20" height="3.00" rx="1.27" fill="rgb(158,158,158)" filter="url(#bl)"/>
<rect x="118.40" y="395.30" width="9.20" height="3.00" rx="1.27" fill="rgb(133,133,133)" filter="url(#bl)"/>
<rect x="129.80" y="395.30" width="9.20" height="3.00" rx="1.27" fill="rgb(224,224,224)" filter="url(#bl)"/>
<rect x="141.30" y="395.30" width="9.20" height="3.00" rx="1.27" fill="rgb(199,199,199)" filter="url(#bl)"/>
<rect x="153.00" y="394.40" width="9.20" height="4.80" rx="2.04" fill="rgb(18,18,18)" filter="url(#bl)"/>
<rect x="164.20" y="394.60" width="9.20" height="4.40" rx="1.87" fill="rgb(25,25,25)" filter="url(#bl)"/>
<rect x="175.80" y="394.90" width="9.20" height="3.80" rx="1.61" fill="rgb(97,97,97)" filter="url(#bl)"/>
<rect x="187.60" y="395.40" width="9.20" height="2.80" rx="1.19" fill="rgb(230,230,230)" filter="url(#bl)"/>
<rect x="199.40" y="395.10" width="9.20" height="3.40" rx="1.44" fill="rgb(148,148,148)" filter="url(#bl)"/>
<rect x="211.00" y="395.10" width="9.20" height="5.40" rx="2.29" fill="rgb(8,8,8)" filter="url(#bl)"/>
<rect x="222.70" y="395.10" width="9.20" height="5.40" rx="2.29" fill="rgb(8,8,8)" filter="url(#bl)"/>
<rect x="235.00" y="395.70" width="9.20" height="3.80" rx="1.61" fill="rgb(36,36,36)" filter="url(#bl)"/>
<rect x="68.70" y="412.50" width="179.10" height="11.00" fill="#fbfbfb" stroke="#111" stroke-width="1.7"/>
<rect x="70.60" y="415.00" width="10.80" height="6.20" rx="2.63" fill="rgb(10,10,10)" filter="url(#bl)"/>
<rect x="82.90" y="415.00" width="10.80" height="6.20" rx="2.63" fill="rgb(10,10,10)" filter="url(#bl)"/>
<rect x="94.60" y="415.00" width="10.80" height="6.20" rx="2.63" fill="rgb(10,10,10)" filter="url(#bl)"/>
<rect x="106.30" y="415.00" width="10.80" height="6.20" rx="2.63" fill="rgb(10,10,10)" filter="url(#bl)"/>
<rect x="117.60" y="415.00" width="10.80" height="6.20" rx="2.63" fill="rgb(10,10,10)" filter="url(#bl)"/>
<rect x="129.00" y="415.00" width="10.80" height="6.20" rx="2.63" fill="rgb(10,10,10)" filter="url(#bl)"/>
<rect x="140.50" y="415.00" width="10.80" height="6.20" rx="2.63" fill="rgb(10,10,10)" filter="url(#bl)"/>
<rect x="152.20" y="415.00" width="10.80" height="6.20" rx="2.63" fill="rgb(10,10,10)" filter="url(#bl)"/>
<rect x="163.40" y="415.00" width="10.80" height="6.20" rx="2.63" fill="rgb(10,10,10)" filter="url(#bl)"/>
<rect x="175.00" y="415.00" width="10.80" height="6.20" rx="2.63" fill="rgb(10,10,10)" filter="url(#bl)"/>
<rect x="186.80" y="415.00" width="10.80" height="6.20" rx="2.63" fill="rgb(10,10,10)" filter="url(#bl)"/>
<rect x="198.60" y="415.00" width="10.80" height="6.20" rx="2.63" fill="rgb(10,10,10)" filter="url(#bl)"/>
<rect x="210.20" y="415.00" width="10.80" height="6.20" rx="2.63" fill="rgb(10,10,10)" filter="url(#bl)"/>
<rect x="221.90" y="415.00" width="10.80" height="6.20" rx="2.63" fill="rgb(10,10,10)" filter="url(#bl)"/>
<rect x="234.20" y="415.00" width="10.80" height="6.20" rx="2.63" fill="rgb(10,10,10)" filter="url(#bl)"/>
<rect x="301.90" y="326.90" width="182.70" height="13.20" fill="#fbfbfb" stroke="#111" stroke-width="1.7"/>
<rect x="304.70" y="332.80" width="9.40" height="2.40" rx="1.02" fill="rgb(115,115,115)" filter="url(#bl)" transform="rotate(16 309.40 334.00)"/>
<rect x="316.80" y="333.60" width="9.40" height="2.80" rx="1.19" fill="rgb(102,102,102)" filter="url(#bl)"/>
<rect x="329.10" y="333.20" width="9.40" height="3.60" rx="1.53" fill="rgb(10,10,10)" filter="url(#bl)"/>
<rect x="340.90" y="333.70" width="9.40" height="2.60" rx="1.10" fill="rgb(166,166,166)" filter="url(#bl)"/>
<rect x="352.70" y="333.70" width="9.40" height="2.60" rx="1.10" fill="rgb(166,166,166)" filter="url(#bl)"/>
<rect x="364.50" y="333.30" width="9.40" height="3.40" rx="1.44" fill="rgb(20,20,20)" filter="url(#bl)"/>
<rect x="376.10" y="333.10" width="9.40" height="2.40" rx="1.02" fill="rgb(199,199,199)" filter="url(#bl)"/>
<rect x="387.30" y="332.40" width="9.40" height="2.80" rx="1.19" fill="rgb(128,128,128)" filter="url(#bl)"/>
<rect x="423.30" y="331.00" width="9.40" height="3.20" rx="1.36" fill="rgb(31,31,31)" filter="url(#bl)"/>
<rect x="434.90" y="330.90" width="9.40" height="2.40" rx="1.02" fill="rgb(178,178,178)" filter="url(#bl)"/>
<rect x="446.50" y="330.10" width="9.40" height="3.00" rx="1.27" fill="rgb(97,97,97)" filter="url(#bl)"/>
<rect x="301.90" y="346.10" width="182.70" height="27.00" fill="#fbfbfb" stroke="#111" stroke-width="1.7"/>
<rect x="304.90" y="354.80" width="9.00" height="6.00" rx="2.40" fill="rgb(173,173,173)" filter="url(#bl2)"/>
<rect x="317.00" y="354.80" width="9.00" height="6.00" rx="2.40" fill="rgb(173,173,173)" filter="url(#bl2)"/>
<rect x="329.30" y="354.80" width="9.00" height="6.00" rx="2.40" fill="rgb(173,173,173)" filter="url(#bl2)"/>
<rect x="341.10" y="354.80" width="9.00" height="6.00" rx="2.40" fill="rgb(173,173,173)" filter="url(#bl2)"/>
<rect x="352.90" y="354.80" width="9.00" height="6.00" rx="2.40" fill="rgb(173,173,173)" filter="url(#bl2)"/>
<rect x="364.70" y="354.80" width="9.00" height="6.00" rx="2.40" fill="rgb(173,173,173)" filter="url(#bl2)"/>
<rect x="376.30" y="354.80" width="9.00" height="6.00" rx="2.40" fill="rgb(173,173,173)" filter="url(#bl2)"/>
<rect x="423.50" y="354.80" width="9.00" height="6.00" rx="2.40" fill="rgb(128,128,128)" filter="url(#bl2)"/>
<rect x="435.10" y="354.80" width="9.00" height="6.00" rx="2.40" fill="rgb(128,128,128)" filter="url(#bl2)"/>
<rect x="304.40" y="349.60" width="10.00" height="5.60" rx="2.52" fill="rgb(5,5,5)" filter="url(#bl)"/>
<rect x="316.50" y="349.60" width="10.00" height="5.60" rx="2.52" fill="rgb(5,5,5)" filter="url(#bl)"/>
<rect x="328.80" y="349.60" width="10.00" height="5.60" rx="2.52" fill="rgb(5,5,5)" filter="url(#bl)"/>
<rect x="340.60" y="349.60" width="10.00" height="5.60" rx="2.52" fill="rgb(5,5,5)" filter="url(#bl)"/>
<rect x="352.40" y="349.60" width="10.00" height="5.60" rx="2.52" fill="rgb(5,5,5)" filter="url(#bl)"/>
<rect x="364.20" y="349.60" width="10.00" height="5.60" rx="2.52" fill="rgb(5,5,5)" filter="url(#bl)"/>
<rect x="375.80" y="349.60" width="10.00" height="5.60" rx="2.52" fill="rgb(5,5,5)" filter="url(#bl)"/>
<rect x="387.30" y="350.60" width="9.40" height="3.60" rx="1.62" fill="rgb(102,102,102)" filter="url(#bl)"/>
<rect x="398.90" y="350.90" width="9.00" height="3.00" rx="1.35" fill="rgb(173,173,173)" filter="url(#bl)"/>
<rect x="410.80" y="350.90" width="9.00" height="3.00" rx="1.35" fill="rgb(173,173,173)" filter="url(#bl)"/>
<rect x="422.80" y="349.40" width="10.40" height="6.00" rx="2.70" fill="rgb(3,3,3)" filter="url(#bl)"/>
<rect x="434.40" y="349.40" width="10.40" height="6.00" rx="2.70" fill="rgb(3,3,3)" filter="url(#bl)"/>
<rect x="446.50" y="350.60" width="9.40" height="3.60" rx="1.62" fill="rgb(82,82,82)" filter="url(#bl)"/>
<rect x="458.70" y="350.90" width="9.00" height="3.00" rx="1.35" fill="rgb(191,191,191)" filter="url(#bl)"/>
<rect x="471.70" y="351.10" width="9.00" height="2.60" rx="1.17" fill="rgb(230,230,230)" filter="url(#bl)"/>
<rect x="387.50" y="358.70" width="9.00" height="2.60" rx="1.10" fill="rgb(158,158,158)" filter="url(#bl)"/>
<rect x="398.90" y="358.70" width="9.00" height="2.60" rx="1.10" fill="rgb(224,224,224)" filter="url(#bl)"/>
<rect x="410.80" y="358.70" width="9.00" height="2.60" rx="1.10" fill="rgb(224,224,224)" filter="url(#bl)"/>
<rect x="446.70" y="358.70" width="9.00" height="2.60" rx="1.10" fill="rgb(158,158,158)" filter="url(#bl)"/>
<rect x="387.30" y="365.30" width="9.40" height="3.20" rx="1.36" fill="rgb(56,56,56)" filter="url(#bl)"/>
<rect x="398.70" y="365.30" width="9.40" height="3.20" rx="1.36" fill="rgb(46,46,46)" filter="url(#bl)"/>
<rect x="410.60" y="365.30" width="9.40" height="3.20" rx="1.36" fill="rgb(46,46,46)" filter="url(#bl)"/>
<rect x="423.30" y="365.30" width="9.40" height="3.20" rx="1.36" fill="rgb(240,240,240)" filter="url(#bl)"/>
<rect x="434.90" y="365.30" width="9.40" height="3.20" rx="1.36" fill="rgb(214,214,214)" filter="url(#bl)"/>
<rect x="446.50" y="365.30" width="9.40" height="3.20" rx="1.36" fill="rgb(31,31,31)" filter="url(#bl)"/>
<rect x="458.50" y="365.30" width="9.40" height="3.20" rx="1.36" fill="rgb(56,56,56)" filter="url(#bl)"/>
<rect x="471.50" y="365.30" width="9.40" height="3.20" rx="1.36" fill="rgb(102,102,102)" filter="url(#bl)"/>
<rect x="301.90" y="378.70" width="182.70" height="27.00" fill="#fbfbfb" stroke="#111" stroke-width="1.7"/>
<rect x="304.60" y="385.00" width="9.60" height="4.00" rx="1.70" fill="rgb(31,31,31)" filter="url(#bl)"/>
<rect x="316.70" y="385.09" width="9.60" height="3.60" rx="1.53" fill="rgb(107,107,107)" filter="url(#bl)"/>
<rect x="329.00" y="385.07" width="9.60" height="3.40" rx="1.44" fill="rgb(133,133,133)" filter="url(#bl)"/>
<rect x="340.80" y="384.76" width="9.60" height="3.80" rx="1.61" fill="rgb(31,31,31)" filter="url(#bl)"/>
<rect x="352.60" y="384.74" width="9.60" height="3.60" rx="1.53" fill="rgb(97,97,97)" filter="url(#bl)"/>
<rect x="364.40" y="384.43" width="9.60" height="4.00" rx="1.70" fill="rgb(20,20,20)" filter="url(#bl)"/>
<rect x="376.00" y="384.31" width="9.60" height="4.00" rx="1.70" fill="rgb(18,18,18)" filter="url(#bl)"/>
<rect x="387.20" y="384.60" width="9.60" height="3.20" rx="1.36" fill="rgb(184,184,184)" filter="url(#bl)"/>
<rect x="398.60" y="384.39" width="9.60" height="3.40" rx="1.44" fill="rgb(140,140,140)" filter="url(#bl)"/>
<rect x="410.50" y="384.47" width="9.60" height="3.00" rx="1.27" fill="rgb(230,230,230)" filter="url(#bl)"/>
<rect x="423.20" y="384.06" width="9.60" height="3.60" rx="1.53" fill="rgb(107,107,107)" filter="url(#bl)"/>
<rect x="434.80" y="383.74" width="9.60" height="4.00" rx="1.70" fill="rgb(25,25,25)" filter="url(#bl)"/>
<rect x="446.40" y="384.03" width="9.60" height="3.20" rx="1.36" fill="rgb(173,173,173)" filter="url(#bl)"/>
<rect x="458.40" y="384.01" width="9.60" height="3.00" rx="1.27" fill="rgb(242,242,242)" filter="url(#bl)"/>
<rect x="304.50" y="395.60" width="9.80" height="5.60" rx="2.38" fill="rgb(8,8,8)" filter="url(#bl)"/>
<rect x="316.60" y="395.46" width="9.80" height="5.60" rx="2.38" fill="rgb(8,8,8)" filter="url(#bl)"/>
<rect x="328.90" y="395.31" width="9.80" height="5.60" rx="2.38" fill="rgb(8,8,8)" filter="url(#bl)"/>
<rect x="340.70" y="395.17" width="9.80" height="5.60" rx="2.38" fill="rgb(8,8,8)" filter="url(#bl)"/>
<rect x="352.50" y="395.03" width="9.80" height="5.60" rx="2.38" fill="rgb(8,8,8)" filter="url(#bl)"/>
<rect x="364.30" y="394.89" width="9.80" height="5.60" rx="2.38" fill="rgb(8,8,8)" filter="url(#bl)"/>
<rect x="375.90" y="394.74" width="9.80" height="5.60" rx="2.38" fill="rgb(8,8,8)" filter="url(#bl)"/>
<rect x="387.10" y="394.60" width="9.80" height="5.60" rx="2.38" fill="rgb(8,8,8)" filter="url(#bl)"/>
<rect x="398.50" y="394.46" width="9.80" height="5.60" rx="2.38" fill="rgb(8,8,8)" filter="url(#bl)"/>
<rect x="410.40" y="394.51" width="9.80" height="5.20" rx="2.21" fill="rgb(18,18,18)" filter="url(#bl)"/>
<rect x="423.10" y="394.17" width="9.80" height="5.60" rx="2.38" fill="rgb(8,8,8)" filter="url(#bl)"/>
<rect x="434.70" y="394.23" width="9.80" height="5.20" rx="2.21" fill="rgb(18,18,18)" filter="url(#bl)"/>
<rect x="446.30" y="393.89" width="9.80" height="5.60" rx="2.38" fill="rgb(8,8,8)" filter="url(#bl)"/>
<rect x="458.30" y="394.14" width="9.80" height="4.80" rx="2.04" fill="rgb(25,25,25)" filter="url(#bl)"/>
<rect x="471.30" y="393.50" width="9.80" height="4.20" rx="1.78" fill="rgb(51,51,51)" filter="url(#bl)"/>
<rect x="301.90" y="412.60" width="182.70" height="11.10" fill="#fbfbfb" stroke="#111" stroke-width="1.7"/>
<rect x="304.00" y="415.60" width="10.80" height="5.60" rx="2.38" fill="rgb(10,10,10)" filter="url(#bl)"/>
<rect x="316.10" y="415.60" width="10.80" height="5.60" rx="2.38" fill="rgb(10,10,10)" filter="url(#bl)"/>
<rect x="328.40" y="415.60" width="10.80" height="5.60" rx="2.38" fill="rgb(10,10,10)" filter="url(#bl)"/>
<rect x="340.20" y="415.60" width="10.80" height="5.60" rx="2.38" fill="rgb(10,10,10)" filter="url(#bl)"/>
<rect x="352.00" y="415.60" width="10.80" height="5.60" rx="2.38" fill="rgb(10,10,10)" filter="url(#bl)"/>
<rect x="363.80" y="415.60" width="10.80" height="5.60" rx="2.38" fill="rgb(10,10,10)" filter="url(#bl)"/>
<rect x="375.40" y="415.60" width="10.80" height="5.60" rx="2.38" fill="rgb(10,10,10)" filter="url(#bl)"/>
<rect x="386.60" y="415.60" width="10.80" height="5.60" rx="2.38" fill="rgb(10,10,10)" filter="url(#bl)"/>
<rect x="398.00" y="415.60" width="10.80" height="5.60" rx="2.38" fill="rgb(10,10,10)" filter="url(#bl)"/>
<rect x="409.90" y="415.60" width="10.80" height="5.60" rx="2.38" fill="rgb(10,10,10)" filter="url(#bl)"/>
<rect x="422.60" y="415.60" width="10.80" height="5.60" rx="2.38" fill="rgb(10,10,10)" filter="url(#bl)"/>
<rect x="434.20" y="415.60" width="10.80" height="5.60" rx="2.38" fill="rgb(10,10,10)" filter="url(#bl)"/>
<rect x="445.80" y="415.60" width="10.80" height="5.60" rx="2.38" fill="rgb(10,10,10)" filter="url(#bl)"/>
<rect x="457.80" y="415.60" width="10.80" height="5.60" rx="2.38" fill="rgb(10,10,10)" filter="url(#bl)"/>
<rect x="470.80" y="414.00" width="10.80" height="5.60" rx="2.38" fill="rgb(10,10,10)" filter="url(#bl)"/>
<rect x="0.75" y="0.75" width="518.2" height="440.2" fill="none" stroke="#000" stroke-width="1.5"/>
<line x1="519.3" y1="0" x2="519.3" y2="442" stroke="#000" stroke-width="1.5"/>
<line x1="0" y1="441.3" x2="520" y2="441.3" stroke="#000" stroke-width="1.5"/>
<g filter="url(#gs)">
<text x="7.50" y="17.30" font-size="11.2" text-anchor="start" fill="#000" stroke="#000" stroke-width="0.5" font-weight="bold" textLength="8.60" lengthAdjust="spacingAndGlyphs" >A</text>
<text x="32.00" y="119.40" font-size="6.8" text-anchor="end" fill="#111" stroke="#111" stroke-width="0.13" >0</text>
<text x="32.00" y="96.90" font-size="6.8" text-anchor="end" fill="#111" stroke="#111" stroke-width="0.13" >25</text>
<text x="32.00" y="74.40" font-size="6.8" text-anchor="end" fill="#111" stroke="#111" stroke-width="0.13" >50</text>
<text x="32.00" y="51.90" font-size="6.8" text-anchor="end" fill="#111" stroke="#111" stroke-width="0.13" >75</text>
<text x="32.00" y="29.40" font-size="6.8" text-anchor="end" fill="#111" stroke="#111" stroke-width="0.13" >100</text>
<text x="36.00" y="128.90" font-size="6.6" text-anchor="middle" fill="#111" stroke="#111" stroke-width="0.13" >0.01</text>
<text x="70.35" y="128.90" font-size="6.6" text-anchor="middle" fill="#111" stroke="#111" stroke-width="0.13" >0.1</text>
<text x="104.70" y="128.90" font-size="6.6" text-anchor="middle" fill="#111" stroke="#111" stroke-width="0.13" >1</text>
<text x="139.05" y="128.90" font-size="6.6" text-anchor="middle" fill="#111" stroke="#111" stroke-width="0.13" >10</text>
<text x="173.40" y="128.90" font-size="6.6" text-anchor="middle" fill="#111" stroke="#111" stroke-width="0.13" >100</text>
<text x="107.10" y="141.20" font-size="8.3" text-anchor="middle" fill="#111" stroke="#111" stroke-width="0.22999999999999998" textLength="52.90" lengthAdjust="spacingAndGlyphs" >Bortezomib (nM)</text>
<text x="15.30" y="69.90" font-size="9.3" text-anchor="middle" fill="#111" stroke="#111" stroke-width="0.11" textLength="49.60" lengthAdjust="spacingAndGlyphs" transform="rotate(-90 15.30 69.90)" >Cell viability (%)</text>
<text x="163.00" y="36.60" font-size="5.5" text-anchor="start" fill="#111" stroke="#111" stroke-width="0.13" textLength="10.40" lengthAdjust="spacingAndGlyphs" >TL-1</text>
<text x="163.00" y="42.90" font-size="5.5" text-anchor="start" fill="#111" stroke="#111" stroke-width="0.13" textLength="9.60" lengthAdjust="spacingAndGlyphs" >NKL</text>
<text x="47.10" y="95.60" font-size="5.6" text-anchor="start" fill="#111" stroke="#111" stroke-width="0.11" >NKL:</text>
<text x="60.80" y="95.60" font-size="5.6" text-anchor="start" fill="#111" stroke="#111" stroke-width="0.11" >EC</text>
<text x="68.10" y="97.20" font-size="3.2" text-anchor="start" fill="#111" stroke="#111" stroke-width="0.09" >50</text>
<text x="73.70" y="95.60" font-size="5.6" text-anchor="start" fill="#111" stroke="#111" stroke-width="0.11" textLength="20.30" lengthAdjust="spacingAndGlyphs" >17.1 nM</text>
<text x="47.10" y="105.10" font-size="5.6" text-anchor="start" fill="#111" stroke="#111" stroke-width="0.11" >TL1:</text>
<text x="60.80" y="105.10" font-size="5.6" text-anchor="start" fill="#111" stroke="#111" stroke-width="0.11" >EC</text>
<text x="68.10" y="106.70" font-size="3.2" text-anchor="start" fill="#111" stroke="#111" stroke-width="0.09" >50</text>
<text x="73.70" y="105.10" font-size="5.6" text-anchor="start" fill="#111" stroke="#111" stroke-width="0.11" textLength="17.20" lengthAdjust="spacingAndGlyphs" >5.3 nM</text>
<text x="7.60" y="156.60" font-size="11.2" text-anchor="start" fill="#000" stroke="#000" stroke-width="0.5" font-weight="bold" textLength="8.10" lengthAdjust="spacingAndGlyphs" >B</text>
<text x="32.00" y="259.10" font-size="6.8" text-anchor="end" fill="#111" stroke="#111" stroke-width="0.13" >0</text>
<text x="32.00" y="236.60" font-size="6.8" text-anchor="end" fill="#111" stroke="#111" stroke-width="0.13" >25</text>
<text x="32.00" y="214.10" font-size="6.8" text-anchor="end" fill="#111" stroke="#111" stroke-width="0.13" >50</text>
<text x="32.00" y="191.60" font-size="6.8" text-anchor="end" fill="#111" stroke="#111" stroke-width="0.13" >75</text>
<text x="32.00" y="169.10" font-size="6.8" text-anchor="end" fill="#111" stroke="#111" stroke-width="0.13" >100</text>
<text x="39.00" y="268.60" font-size="6.6" text-anchor="middle" fill="#111" stroke="#111" stroke-width="0.13" >10</text>
<text x="105.50" y="268.60" font-size="6.6" text-anchor="middle" fill="#111" stroke="#111" stroke-width="0.13" >100</text>
<text x="172.00" y="268.60" font-size="6.6" text-anchor="middle" fill="#111" stroke="#111" stroke-width="0.13" >1000</text>
<text x="106.80" y="280.80" font-size="8.3" text-anchor="middle" fill="#111" stroke="#111" stroke-width="0.22999999999999998" textLength="44.00" lengthAdjust="spacingAndGlyphs" >Ixazomib (nM)</text>
<text x="15.30" y="209.90" font-size="9.3" text-anchor="middle" fill="#111" stroke="#111" stroke-width="0.11" textLength="49.60" lengthAdjust="spacingAndGlyphs" transform="rotate(-90 15.30 209.90)" >Cell viability (%)</text>
<text x="158.20" y="176.20" font-size="5.5" text-anchor="start" fill="#111" stroke="#111" stroke-width="0.13" textLength="10.60" lengthAdjust="spacingAndGlyphs" >TL-1</text>
<text x="158.20" y="182.30" font-size="5.5" text-anchor="start" fill="#111" stroke="#111" stroke-width="0.13" textLength="10.00" lengthAdjust="spacingAndGlyphs" >NKL</text>
<text x="119.10" y="214.30" font-size="5.6" text-anchor="start" fill="#111" stroke="#111" stroke-width="0.11" >NKL:</text>
<text x="132.60" y="214.30" font-size="5.6" text-anchor="start" fill="#111" stroke="#111" stroke-width="0.11" >EC</text>
<text x="139.90" y="215.90" font-size="3.2" text-anchor="start" fill="#111" stroke="#111" stroke-width="0.09" >50</text>
<text x="145.90" y="214.30" font-size="5.6" text-anchor="start" fill="#111" stroke="#111" stroke-width="0.11" textLength="20.30" lengthAdjust="spacingAndGlyphs" >60.8 nM</text>
<text x="119.10" y="223.10" font-size="5.6" text-anchor="start" fill="#111" stroke="#111" stroke-width="0.11" >TL1:</text>
<text x="132.60" y="223.10" font-size="5.6" text-anchor="start" fill="#111" stroke="#111" stroke-width="0.11" >EC</text>
<text x="139.90" y="224.70" font-size="3.2" text-anchor="start" fill="#111" stroke="#111" stroke-width="0.09" >50</text>
<text x="145.90" y="223.10" font-size="5.6" text-anchor="start" fill="#111" stroke="#111" stroke-width="0.11" textLength="19.80" lengthAdjust="spacingAndGlyphs" >97.4 nM</text>
<text x="221.50" y="119.40" font-size="6.8" text-anchor="end" fill="#111" stroke="#111" stroke-width="0.13" >0</text>
<text x="221.50" y="105.82" font-size="6.8" text-anchor="end" fill="#111" stroke="#111" stroke-width="0.13" >20</text>
<text x="221.50" y="92.24" font-size="6.8" text-anchor="end" fill="#111" stroke="#111" stroke-width="0.13" >40</text>
<text x="221.50" y="78.66" font-size="6.8" text-anchor="end" fill="#111" stroke="#111" stroke-width="0.13" >60</text>
<text x="221.50" y="65.08" font-size="6.8" text-anchor="end" fill="#111" stroke="#111" stroke-width="0.13" >80</text>
<text x="221.50" y="51.50" font-size="6.8" text-anchor="end" fill="#111" stroke="#111" stroke-width="0.13" >100</text>
<text x="221.50" y="37.92" font-size="6.8" text-anchor="end" fill="#111" stroke="#111" stroke-width="0.13" >120</text>
<text x="236.90" y="128.90" font-size="6.6" text-anchor="middle" fill="#111" stroke="#111" stroke-width="0.13" >0</text>
<text x="254.18" y="128.90" font-size="6.6" text-anchor="middle" fill="#111" stroke="#111" stroke-width="0.13" >1.25</text>
<text x="271.46" y="128.90" font-size="6.6" text-anchor="middle" fill="#111" stroke="#111" stroke-width="0.13" >2.5</text>
<text x="288.74" y="128.90" font-size="6.6" text-anchor="middle" fill="#111" stroke="#111" stroke-width="0.13" >5</text>
<text x="306.02" y="128.90" font-size="6.6" text-anchor="middle" fill="#111" stroke="#111" stroke-width="0.13" >10</text>
<text x="323.30" y="128.90" font-size="6.6" text-anchor="middle" fill="#111" stroke="#111" stroke-width="0.13" >20</text>
<text x="340.58" y="128.90" font-size="6.6" text-anchor="middle" fill="#111" stroke="#111" stroke-width="0.13" >40</text>
<text x="288.80" y="27.30" font-size="8.9" text-anchor="middle" fill="#000" stroke="#000" stroke-width="0.12" font-weight="bold" textLength="16.80" lengthAdjust="spacingAndGlyphs" >TL-1</text>
<text x="288.80" y="141.20" font-size="8.3" text-anchor="middle" fill="#111" stroke="#111" stroke-width="0.22999999999999998" textLength="52.30" lengthAdjust="spacingAndGlyphs" >Bortezomib (nM)</text>
<text x="204.40" y="75.30" font-size="8.3" text-anchor="middle" fill="#111" stroke="#111" stroke-width="0.11" textLength="43.40" lengthAdjust="spacingAndGlyphs" transform="rotate(-90 204.40 75.30)" >Apoptosis (%)</text>
<text x="331.90" y="39.00" font-size="5.4" text-anchor="start" fill="#111" stroke="#111" stroke-width="0.13" textLength="9.20" lengthAdjust="spacingAndGlyphs" >24h</text>
<text x="331.90" y="45.50" font-size="5.4" text-anchor="start" fill="#111" stroke="#111" stroke-width="0.13" textLength="9.20" lengthAdjust="spacingAndGlyphs" >48h</text>
<text x="383.80" y="119.40" font-size="6.8" text-anchor="end" fill="#111" stroke="#111" stroke-width="0.13" >0</text>
<text x="383.80" y="105.82" font-size="6.8" text-anchor="end" fill="#111" stroke="#111" stroke-width="0.13" >20</text>
<text x="383.80" y="92.24" font-size="6.8" text-anchor="end" fill="#111" stroke="#111" stroke-width="0.13" >40</text>
<text x="383.80" y="78.66" font-size="6.8" text-anchor="end" fill="#111" stroke="#111" stroke-width="0.13" >60</text>
<text x="383.80" y="65.08" font-size="6.8" text-anchor="end" fill="#111" stroke="#111" stroke-width="0.13" >80</text>
<text x="383.80" y="51.50" font-size="6.8" text-anchor="end" fill="#111" stroke="#111" stroke-width="0.13" >100</text>
<text x="383.80" y="37.92" font-size="6.8" text-anchor="end" fill="#111" stroke="#111" stroke-width="0.13" >120</text>
<text x="399.30" y="128.90" font-size="6.6" text-anchor="middle" fill="#111" stroke="#111" stroke-width="0.13" >0</text>
<text x="416.58" y="128.90" font-size="6.6" text-anchor="middle" fill="#111" stroke="#111" stroke-width="0.13" >12.5</text>
<text x="433.86" y="128.90" font-size="6.6" text-anchor="middle" fill="#111" stroke="#111" stroke-width="0.13" >25</text>
<text x="451.14" y="128.90" font-size="6.6" text-anchor="middle" fill="#111" stroke="#111" stroke-width="0.13" >50</text>
<text x="468.42" y="128.90" font-size="6.6" text-anchor="middle" fill="#111" stroke="#111" stroke-width="0.13" >100</text>
<text x="485.70" y="128.90" font-size="6.6" text-anchor="middle" fill="#111" stroke="#111" stroke-width="0.13" >200</text>
<text x="502.98" y="128.90" font-size="6.6" text-anchor="middle" fill="#111" stroke="#111" stroke-width="0.13" >400</text>
<text x="451.10" y="27.30" font-size="8.9" text-anchor="middle" fill="#000" stroke="#000" stroke-width="0.12" font-weight="bold" textLength="16.80" lengthAdjust="spacingAndGlyphs" >TL-1</text>
<text x="451.20" y="141.20" font-size="8.3" text-anchor="middle" fill="#111" stroke="#111" stroke-width="0.22999999999999998" textLength="46.30" lengthAdjust="spacingAndGlyphs" >Ixazomib (nM)</text>
<text x="366.70" y="75.30" font-size="8.3" text-anchor="middle" fill="#111" stroke="#111" stroke-width="0.11" textLength="43.40" lengthAdjust="spacingAndGlyphs" transform="rotate(-90 366.70 75.30)" >Apoptosis (%)</text>
<text x="494.20" y="38.90" font-size="5.4" text-anchor="start" fill="#111" stroke="#111" stroke-width="0.13" textLength="9.20" lengthAdjust="spacingAndGlyphs" >24h</text>
<text x="494.20" y="45.40" font-size="5.4" text-anchor="start" fill="#111" stroke="#111" stroke-width="0.13" textLength="9.20" lengthAdjust="spacingAndGlyphs" >48h</text>
<text x="221.80" y="259.10" font-size="6.8" text-anchor="end" fill="#111" stroke="#111" stroke-width="0.13" >0</text>
<text x="221.80" y="246.37" font-size="6.8" text-anchor="end" fill="#111" stroke="#111" stroke-width="0.13" >20</text>
<text x="221.80" y="233.63" font-size="6.8" text-anchor="end" fill="#111" stroke="#111" stroke-width="0.13" >40</text>
<text x="221.80" y="220.90" font-size="6.8" text-anchor="end" fill="#111" stroke="#111" stroke-width="0.13" >60</text>
<text x="221.80" y="208.16" font-size="6.8" text-anchor="end" fill="#111" stroke="#111" stroke-width="0.13" >80</text>
<text x="221.80" y="195.43" font-size="6.8" text-anchor="end" fill="#111" stroke="#111" stroke-width="0.13" >100</text>
<text x="221.80" y="182.70" font-size="6.8" text-anchor="end" fill="#111" stroke="#111" stroke-width="0.13" >120</text>
<text x="236.90" y="268.60" font-size="6.6" text-anchor="middle" fill="#111" stroke="#111" stroke-width="0.13" >0</text>
<text x="254.18" y="268.60" font-size="6.6" text-anchor="middle" fill="#111" stroke="#111" stroke-width="0.13" >1.25</text>
<text x="271.46" y="268.60" font-size="6.6" text-anchor="middle" fill="#111" stroke="#111" stroke-width="0.13" >2.5</text>
<text x="288.74" y="268.60" font-size="6.6" text-anchor="middle" fill="#111" stroke="#111" stroke-width="0.13" >5</text>
<text x="306.02" y="268.60" font-size="6.6" text-anchor="middle" fill="#111" stroke="#111" stroke-width="0.13" >10</text>
<text x="323.30" y="268.60" font-size="6.6" text-anchor="middle" fill="#111" stroke="#111" stroke-width="0.13" >20</text>
<text x="340.58" y="268.60" font-size="6.6" text-anchor="middle" fill="#111" stroke="#111" stroke-width="0.13" >40</text>
<text x="288.60" y="171.10" font-size="8.9" text-anchor="middle" fill="#000" stroke="#000" stroke-width="0.12" font-weight="bold" textLength="17.90" lengthAdjust="spacingAndGlyphs" >NKL</text>
<text x="288.80" y="280.90" font-size="8.3" text-anchor="middle" fill="#111" stroke="#111" stroke-width="0.22999999999999998" textLength="52.30" lengthAdjust="spacingAndGlyphs" >Bortezomib (nM)</text>
<text x="204.70" y="217.55" font-size="8.3" text-anchor="middle" fill="#111" stroke="#111" stroke-width="0.11" textLength="43.40" lengthAdjust="spacingAndGlyphs" transform="rotate(-90 204.70 217.55)" >Apoptosis (%)</text>
<text x="331.40" y="182.90" font-size="5.4" text-anchor="start" fill="#111" stroke="#111" stroke-width="0.13" textLength="9.20" lengthAdjust="spacingAndGlyphs" >24h</text>
<text x="331.40" y="189.40" font-size="5.4" text-anchor="start" fill="#111" stroke="#111" stroke-width="0.13" textLength="9.20" lengthAdjust="spacingAndGlyphs" >48h</text>
<text x="383.80" y="259.10" font-size="6.8" text-anchor="end" fill="#111" stroke="#111" stroke-width="0.13" >0</text>
<text x="383.80" y="246.37" font-size="6.8" text-anchor="end" fill="#111" stroke="#111" stroke-width="0.13" >20</text>
<text x="383.80" y="233.63" font-size="6.8" text-anchor="end" fill="#111" stroke="#111" stroke-width="0.13" >40</text>
<text x="383.80" y="220.90" font-size="6.8" text-anchor="end" fill="#111" stroke="#111" stroke-width="0.13" >60</text>
<text x="383.80" y="208.16" font-size="6.8" text-anchor="end" fill="#111" stroke="#111" stroke-width="0.13" >80</text>
<text x="383.80" y="195.43" font-size="6.8" text-anchor="end" fill="#111" stroke="#111" stroke-width="0.13" >100</text>
<text x="383.80" y="182.70" font-size="6.8" text-anchor="end" fill="#111" stroke="#111" stroke-width="0.13" >120</text>
<text x="399.30" y="268.60" font-size="6.6" text-anchor="middle" fill="#111" stroke="#111" stroke-width="0.13" >0</text>
<text x="416.58" y="268.60" font-size="6.6" text-anchor="middle" fill="#111" stroke="#111" stroke-width="0.13" >12.5</text>
<text x="433.86" y="268.60" font-size="6.6" text-anchor="middle" fill="#111" stroke="#111" stroke-width="0.13" >25</text>
<text x="451.14" y="268.60" font-size="6.6" text-anchor="middle" fill="#111" stroke="#111" stroke-width="0.13" >50</text>
<text x="468.42" y="268.60" font-size="6.6" text-anchor="middle" fill="#111" stroke="#111" stroke-width="0.13" >100</text>
<text x="485.70" y="268.60" font-size="6.6" text-anchor="middle" fill="#111" stroke="#111" stroke-width="0.13" >200</text>
<text x="502.98" y="268.60" font-size="6.6" text-anchor="middle" fill="#111" stroke="#111" stroke-width="0.13" >400</text>
<text x="451.00" y="171.10" font-size="8.9" text-anchor="middle" fill="#000" stroke="#000" stroke-width="0.12" font-weight="bold" textLength="17.90" lengthAdjust="spacingAndGlyphs" >NKL</text>
<text x="451.20" y="280.90" font-size="8.3" text-anchor="middle" fill="#111" stroke="#111" stroke-width="0.22999999999999998" textLength="46.30" lengthAdjust="spacingAndGlyphs" >Ixazomib (nM)</text>
<text x="366.70" y="217.55" font-size="8.3" text-anchor="middle" fill="#111" stroke="#111" stroke-width="0.11" textLength="43.40" lengthAdjust="spacingAndGlyphs" transform="rotate(-90 366.70 217.55)" >Apoptosis (%)</text>
<text x="493.50" y="182.90" font-size="5.4" text-anchor="start" fill="#111" stroke="#111" stroke-width="0.13" textLength="9.20" lengthAdjust="spacingAndGlyphs" >24h</text>
<text x="493.50" y="189.40" font-size="5.4" text-anchor="start" fill="#111" stroke="#111" stroke-width="0.13" textLength="9.20" lengthAdjust="spacingAndGlyphs" >48h</text>
<text x="197.60" y="17.40" font-size="11.2" text-anchor="start" fill="#000" stroke="#000" stroke-width="0.5" font-weight="bold" textLength="8.40" lengthAdjust="spacingAndGlyphs" >C</text>
<text x="197.60" y="157.60" font-size="11.2" text-anchor="start" fill="#000" stroke="#000" stroke-width="0.5" font-weight="bold" textLength="9.40" lengthAdjust="spacingAndGlyphs" >D</text>
<text x="34.30" y="297.10" font-size="11.2" text-anchor="start" fill="#000" stroke="#000" stroke-width="0.5" font-weight="bold" textLength="7.60" lengthAdjust="spacingAndGlyphs" >E</text>
<text x="65.20" y="333.00" font-size="7.0" text-anchor="end" fill="#111" stroke="#111" stroke-width="0.09" textLength="19.20" lengthAdjust="spacingAndGlyphs" >c-FLIP</text>
<text x="65.20" y="360.50" font-size="7.0" text-anchor="end" fill="#111" stroke="#111" stroke-width="0.09" textLength="32.60" lengthAdjust="spacingAndGlyphs" >Caspase-3</text>
<text x="65.20" y="393.00" font-size="7.0" text-anchor="end" fill="#111" stroke="#111" stroke-width="0.09" textLength="17.60" lengthAdjust="spacingAndGlyphs" >PARP</text>
<text x="65.20" y="420.20" font-size="7.0" text-anchor="end" fill="#111" stroke="#111" stroke-width="0.09" textLength="22.60" lengthAdjust="spacingAndGlyphs" >&#946;-Actin</text>
<text x="72.30" y="319.10" font-size="6.5" text-anchor="middle" fill="#111" stroke="#111" stroke-width="0.11" >2</text>
<text x="83.73" y="319.10" font-size="6.5" text-anchor="middle" fill="#111" stroke="#111" stroke-width="0.11" >6</text>
<text x="95.16" y="319.10" font-size="6.5" text-anchor="middle" fill="#111" stroke="#111" stroke-width="0.11" >12</text>
<text x="106.59" y="319.10" font-size="6.5" text-anchor="middle" fill="#111" stroke="#111" stroke-width="0.11" >18</text>
<text x="118.02" y="319.10" font-size="6.5" text-anchor="middle" fill="#111" stroke="#111" stroke-width="0.11" >24</text>
<text x="129.45" y="319.10" font-size="6.5" text-anchor="middle" fill="#111" stroke="#111" stroke-width="0.11" >2</text>
<text x="140.88" y="319.10" font-size="6.5" text-anchor="middle" fill="#111" stroke="#111" stroke-width="0.11" >6</text>
<text x="152.31" y="319.10" font-size="6.5" text-anchor="middle" fill="#111" stroke="#111" stroke-width="0.11" >12</text>
<text x="163.74" y="319.10" font-size="6.5" text-anchor="middle" fill="#111" stroke="#111" stroke-width="0.11" >18</text>
<text x="175.17" y="319.10" font-size="6.5" text-anchor="middle" fill="#111" stroke="#111" stroke-width="0.11" >24</text>
<text x="186.60" y="319.10" font-size="6.5" text-anchor="middle" fill="#111" stroke="#111" stroke-width="0.11" >2</text>
<text x="198.03" y="319.10" font-size="6.5" text-anchor="middle" fill="#111" stroke="#111" stroke-width="0.11" >6</text>
<text x="209.46" y="319.10" font-size="6.5" text-anchor="middle" fill="#111" stroke="#111" stroke-width="0.11" >12</text>
<text x="220.89" y="319.10" font-size="6.5" text-anchor="middle" fill="#111" stroke="#111" stroke-width="0.11" >18</text>
<text x="232.32" y="319.10" font-size="6.5" text-anchor="middle" fill="#111" stroke="#111" stroke-width="0.11" >24</text>
<text x="96.25" y="308.80" font-size="8.3" text-anchor="middle" fill="#111" stroke="#111" stroke-width="0.1" textLength="27.50" lengthAdjust="spacingAndGlyphs" >DMSO</text>
<text x="157.70" y="308.80" font-size="8.3" text-anchor="middle" fill="#111" stroke="#111" stroke-width="0.1" textLength="45.80" lengthAdjust="spacingAndGlyphs" >Bortezomib</text>
<text x="217.30" y="308.80" font-size="8.3" text-anchor="middle" fill="#111" stroke="#111" stroke-width="0.1" textLength="35.80" lengthAdjust="spacingAndGlyphs" >Ixazomib</text>
<text x="158.20" y="432.70" font-size="6.4" text-anchor="middle" fill="#111" stroke="#111" stroke-width="0.11" >TL-1</text>
<text x="267.80" y="299.40" font-size="11.2" text-anchor="start" fill="#000" stroke="#000" stroke-width="0.5" font-weight="bold" textLength="7.00" lengthAdjust="spacingAndGlyphs" >F</text>
<text x="298.90" y="336.00" font-size="7.0" text-anchor="end" fill="#111" stroke="#111" stroke-width="0.09" textLength="19.20" lengthAdjust="spacingAndGlyphs" >c-FLIP</text>
<text x="298.90" y="362.10" font-size="7.0" text-anchor="end" fill="#111" stroke="#111" stroke-width="0.09" textLength="32.60" lengthAdjust="spacingAndGlyphs" >Caspase-3</text>
<text x="298.90" y="394.10" font-size="7.0" text-anchor="end" fill="#111" stroke="#111" stroke-width="0.09" textLength="17.60" lengthAdjust="spacingAndGlyphs" >PARP</text>
<text x="298.90" y="420.20" font-size="7.0" text-anchor="end" fill="#111" stroke="#111" stroke-width="0.09" textLength="22.60" lengthAdjust="spacingAndGlyphs" >&#946;-Actin</text>
<text x="311.30" y="321.90" font-size="6.5" text-anchor="middle" fill="#111" stroke="#111" stroke-width="0.11" >2</text>
<text x="322.64" y="321.90" font-size="6.5" text-anchor="middle" fill="#111" stroke="#111" stroke-width="0.11" >6</text>
<text x="333.98" y="321.90" font-size="6.5" text-anchor="middle" fill="#111" stroke="#111" stroke-width="0.11" >12</text>
<text x="345.32" y="321.90" font-size="6.5" text-anchor="middle" fill="#111" stroke="#111" stroke-width="0.11" >18</text>
<text x="356.66" y="321.90" font-size="6.5" text-anchor="middle" fill="#111" stroke="#111" stroke-width="0.11" >24</text>
<text x="368.00" y="321.90" font-size="6.5" text-anchor="middle" fill="#111" stroke="#111" stroke-width="0.11" >2</text>
<text x="379.34" y="321.90" font-size="6.5" text-anchor="middle" fill="#111" stroke="#111" stroke-width="0.11" >6</text>
<text x="390.68" y="321.90" font-size="6.5" text-anchor="middle" fill="#111" stroke="#111" stroke-width="0.11" >12</text>
<text x="402.02" y="321.90" font-size="6.5" text-anchor="middle" fill="#111" stroke="#111" stroke-width="0.11" >18</text>
<text x="413.36" y="321.90" font-size="6.5" text-anchor="middle" fill="#111" stroke="#111" stroke-width="0.11" >24</text>
<text x="424.70" y="321.90" font-size="6.5" text-anchor="middle" fill="#111" stroke="#111" stroke-width="0.11" >2</text>
<text x="436.04" y="321.90" font-size="6.5" text-anchor="middle" fill="#111" stroke="#111" stroke-width="0.11" >6</text>
<text x="447.38" y="321.90" font-size="6.5" text-anchor="middle" fill="#111" stroke="#111" stroke-width="0.11" >12</text>
<text x="458.72" y="321.90" font-size="6.5" text-anchor="middle" fill="#111" stroke="#111" stroke-width="0.11" >18</text>
<text x="470.06" y="321.90" font-size="6.5" text-anchor="middle" fill="#111" stroke="#111" stroke-width="0.11" >24</text>
<text x="336.75" y="311.30" font-size="8.3" text-anchor="middle" fill="#111" stroke="#111" stroke-width="0.1" textLength="26.90" lengthAdjust="spacingAndGlyphs" >DMSO</text>
<text x="395.00" y="311.30" font-size="8.3" text-anchor="middle" fill="#111" stroke="#111" stroke-width="0.1" textLength="47.00" lengthAdjust="spacingAndGlyphs" >Bortezomib</text>
<text x="454.75" y="311.30" font-size="8.3" text-anchor="middle" fill="#111" stroke="#111" stroke-width="0.1" textLength="35.50" lengthAdjust="spacingAndGlyphs" >Ixazomib</text>
<text x="393.20" y="432.40" font-size="6.4" text-anchor="middle" fill="#111" stroke="#111" stroke-width="0.11" >NKL</text>
</g>
</svg>
</body></html>
